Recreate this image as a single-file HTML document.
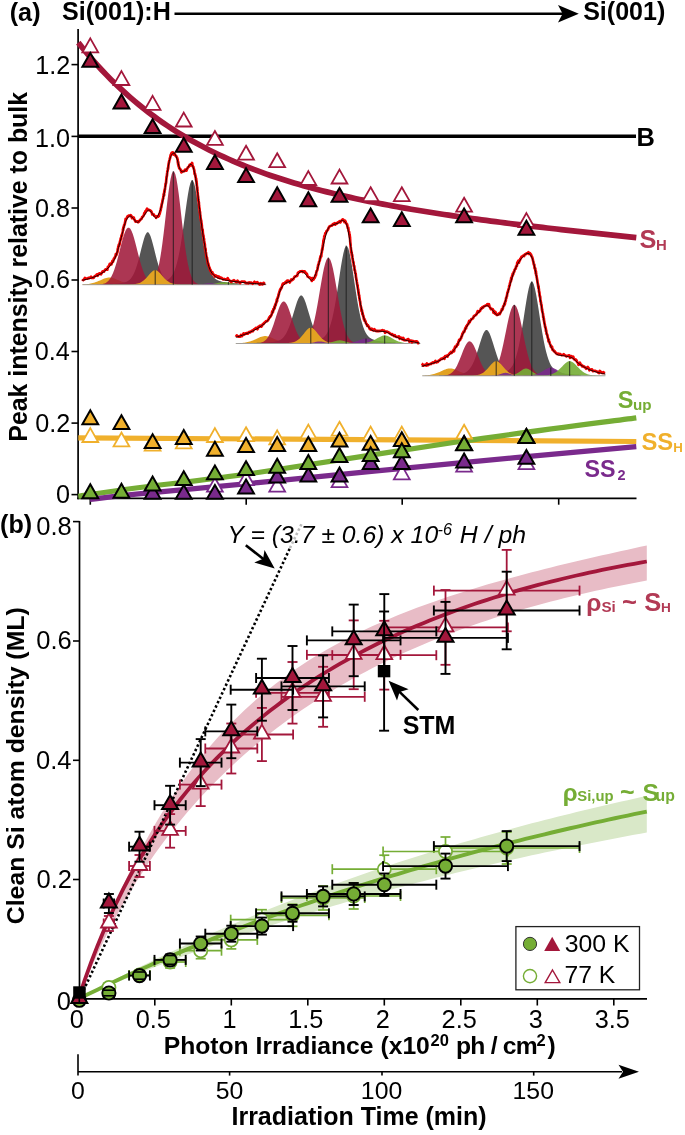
<!DOCTYPE html>
<html><head><meta charset="utf-8"><style>
html,body{margin:0;padding:0;background:#fff;width:685px;height:1135px;overflow:hidden}
svg{display:block;will-change:transform}
.b{font-family:"Liberation Sans",sans-serif;font-weight:bold}
.r{font-family:"Liberation Sans",sans-serif}
.i{font-family:"Liberation Sans",sans-serif;font-style:italic}
</style></head><body>
<svg width="685" height="1135" viewBox="0 0 685 1135">
<rect width="685" height="1135" fill="#fff"/>
<text x="9.74" y="21.3" class="b" font-size="25.2">(a)</text>
<text x="62.05" y="20.3" class="b" font-size="25.1">Si(001):H</text>
<line x1="174.5" y1="13.8" x2="566" y2="13.8" stroke="#000" stroke-width="2.4"/>
<path d="M578.8,13.8 L558,5.1 L562.6,13.8 L558,22.5 Z" fill="#000"/>
<text x="583.15" y="20.3" class="b" font-size="25.06">Si(001)</text>
<line x1="78.1" y1="29" x2="78.1" y2="499.2" stroke="#000" stroke-width="1.7"/>
<line x1="77.3" y1="498.4" x2="636.5" y2="498.4" stroke="#000" stroke-width="1.6"/>
<line x1="71.5" y1="64.6" x2="78.1" y2="64.6" stroke="#000" stroke-width="1.6"/>
<text x="35.33" y="74.3" class="r" font-size="25.2">1.2</text>
<line x1="71.5" y1="136.4" x2="78.1" y2="136.4" stroke="#000" stroke-width="1.6"/>
<text x="34.95" y="146.75" class="r" font-size="25.2">1.0</text>
<line x1="71.5" y1="208" x2="78.1" y2="208" stroke="#000" stroke-width="1.6"/>
<text x="35.08" y="216.55" class="r" font-size="25.2">0.8</text>
<line x1="71.5" y1="280" x2="78.1" y2="280" stroke="#000" stroke-width="1.6"/>
<text x="35.08" y="287.6" class="r" font-size="25.2">0.6</text>
<line x1="71.5" y1="351.5" x2="78.1" y2="351.5" stroke="#000" stroke-width="1.6"/>
<text x="34.83" y="359.8" class="r" font-size="25.2">0.4</text>
<line x1="71.5" y1="423.1" x2="78.1" y2="423.1" stroke="#000" stroke-width="1.6"/>
<text x="35.33" y="432.4" class="r" font-size="25.2">0.2</text>
<line x1="71.5" y1="494.6" x2="78.1" y2="494.6" stroke="#000" stroke-width="1.6"/>
<text x="56" y="503.4" class="r" font-size="25.2">0</text>
<line x1="90.3" y1="498.4" x2="90.3" y2="504.7" stroke="#000" stroke-width="1.6"/>
<line x1="246.2" y1="498.4" x2="246.2" y2="504.7" stroke="#000" stroke-width="1.6"/>
<line x1="402.2" y1="498.4" x2="402.2" y2="504.7" stroke="#000" stroke-width="1.6"/>
<line x1="558.7" y1="498.4" x2="558.7" y2="504.7" stroke="#000" stroke-width="1.6"/>
<text transform="translate(27.3,441.7) rotate(-90)" class="b" font-size="24.89">Peak intensity relative to bulk</text>
<line x1="78.3" y1="136.3" x2="636" y2="136.3" stroke="#000" stroke-width="3.4"/>
<text x="636.55" y="146.1" class="b" font-size="25.4">B</text>
<polygon points="82.4,284.7 82.4,284.41 83.44,284.36 84.48,284.3 85.51,284.23 86.55,284.14 87.59,284.03 88.63,283.9 89.67,283.74 90.7,283.55 91.74,283.33 92.78,283.08 93.82,282.79 94.86,282.46 95.89,282.1 96.93,281.71 97.97,281.28 99.01,280.84 100.05,280.38 101.08,279.91 102.12,279.45 103.16,279 104.2,278.59 105.24,278.23 106.27,277.92 107.31,277.69 108.35,277.55 109.39,277.5 110.43,277.55 111.46,277.69 112.5,277.91 113.54,278.22 114.58,278.58 115.62,278.99 116.65,279.44 117.69,279.9 118.73,280.36 119.77,280.83 120.81,281.27 121.84,281.7 122.88,282.09 123.92,282.45 124.96,282.78 125.99,283.07 127.03,283.33 128.07,283.55 129.11,283.74 130.15,283.89 131.18,284.03 132.22,284.14 133.26,284.23 134.3,284.3 135.34,284.36 136.37,284.41 137.41,284.44 138.45,284.47 139.49,284.5 140.53,284.52 141.56,284.53 142.6,284.55 143.64,284.56 144.68,284.57 145.72,284.58 146.75,284.58 147.79,284.59 148.83,284.6 149.87,284.6 150.91,284.61 151.94,284.61 152.98,284.61 154.02,284.62 155.06,284.62 156.1,284.62 157.13,284.63 158.17,284.63 159.21,284.63 160.25,284.64 161.29,284.64 162.32,284.64 163.36,284.64 164.4,284.64 164.4,284.7" fill="#e2a222" fill-opacity="1.0"/>
<polygon points="103.7,284.7 103.7,284.09 104.81,284.06 105.93,284.03 107.04,284 108.16,283.96 109.27,283.92 110.38,283.87 111.5,283.82 112.61,283.77 113.73,283.71 114.84,283.64 115.95,283.57 117.07,283.49 118.18,283.4 119.29,283.29 120.41,283.17 121.52,283.02 122.64,282.84 123.75,282.61 124.86,282.32 125.98,281.94 127.09,281.45 128.21,280.81 129.32,279.98 130.43,278.9 131.55,277.54 132.66,275.83 133.78,273.72 134.89,271.19 136,268.21 137.12,264.77 138.23,260.93 139.35,256.74 140.46,252.32 141.57,247.83 142.69,243.46 143.8,239.46 144.92,236.1 146.03,233.66 147.14,232.36 148.26,232.36 149.37,233.66 150.48,236.1 151.6,239.46 152.71,243.46 153.83,247.83 154.94,252.32 156.05,256.74 157.17,260.93 158.28,264.77 159.4,268.21 160.51,271.19 161.62,273.72 162.74,275.83 163.85,277.54 164.97,278.9 166.08,279.98 167.19,280.81 168.31,281.45 169.42,281.94 170.54,282.32 171.65,282.61 172.76,282.84 173.88,283.02 174.99,283.17 176.11,283.29 177.22,283.4 178.33,283.49 179.45,283.57 180.56,283.64 181.67,283.71 182.79,283.77 183.9,283.82 185.02,283.87 186.13,283.92 187.24,283.96 188.36,284 189.47,284.03 190.59,284.06 191.7,284.09 191.7,284.7" fill="#555555" fill-opacity="1.0"/>
<polygon points="144.2,284.7 144.2,283.49 145.42,283.43 146.63,283.37 147.85,283.3 149.06,283.22 150.28,283.14 151.49,283.05 152.71,282.95 153.92,282.84 155.14,282.72 156.35,282.6 157.57,282.45 158.78,282.29 160,282.11 161.21,281.9 162.43,281.65 163.64,281.35 164.86,280.99 166.07,280.54 167.29,279.95 168.5,279.2 169.72,278.22 170.93,276.95 172.15,275.29 173.36,273.15 174.58,270.43 175.79,267.02 177.01,262.83 178.23,257.78 179.44,251.84 180.66,245 181.87,237.34 183.09,228.99 184.3,220.19 185.52,211.24 186.73,202.53 187.95,194.56 189.16,187.87 190.38,183 191.59,180.43 192.81,180.43 194.02,183 195.24,187.87 196.45,194.56 197.67,202.53 198.88,211.24 200.1,220.19 201.31,228.99 202.53,237.34 203.74,245 204.96,251.84 206.17,257.78 207.39,262.83 208.61,267.02 209.82,270.43 211.04,273.15 212.25,275.29 213.47,276.95 214.68,278.22 215.9,279.2 217.11,279.95 218.33,280.54 219.54,280.99 220.76,281.35 221.97,281.65 223.19,281.9 224.4,282.11 225.62,282.29 226.83,282.45 228.05,282.6 229.26,282.72 230.48,282.84 231.69,282.95 232.91,283.05 234.12,283.14 235.34,283.22 236.55,283.3 237.77,283.37 238.98,283.43 240.2,283.49 240.2,284.7" fill="#555555" fill-opacity="1.0"/>
<polygon points="82.4,284.7 82.4,284.7 83.63,284.7 84.86,284.7 86.09,284.7 87.32,284.7 88.55,284.7 89.77,284.7 91,284.7 92.23,284.69 93.46,284.68 94.69,284.67 95.92,284.65 97.15,284.62 98.38,284.56 99.61,284.48 100.84,284.35 102.07,284.16 103.29,283.87 104.52,283.46 105.75,282.88 106.98,282.08 108.21,281.02 109.44,279.61 110.67,277.82 111.9,275.58 113.13,272.85 114.36,269.61 115.59,265.87 116.82,261.67 118.04,257.09 119.27,252.26 120.5,247.35 121.73,242.55 122.96,238.08 124.19,234.16 125.42,231.01 126.65,228.79 127.88,227.65 129.11,227.64 130.34,228.77 131.56,230.97 132.79,234.11 134.02,238.02 135.25,242.48 136.48,247.28 137.71,252.19 138.94,257.03 140.17,261.61 141.4,265.82 142.63,269.56 143.86,272.81 145.08,275.55 146.31,277.79 147.54,279.59 148.77,281 150,282.07 151.23,282.87 152.46,283.45 153.69,283.87 154.92,284.15 156.15,284.35 157.38,284.48 158.61,284.56 159.83,284.62 161.06,284.65 162.29,284.67 163.52,284.68 164.75,284.69 165.98,284.7 167.21,284.7 168.44,284.7 169.67,284.7 170.9,284.7 172.13,284.7 173.35,284.7 174.58,284.7 175.81,284.7 177.04,284.7 178.27,284.7 179.5,284.7 179.5,284.7" fill="#a0183a" fill-opacity="0.87"/>
<polygon points="127.5,284.7 127.5,284.7 128.66,284.7 129.83,284.7 130.99,284.7 132.16,284.7 133.32,284.7 134.49,284.7 135.65,284.7 136.82,284.7 137.98,284.7 139.15,284.69 140.31,284.69 141.47,284.67 142.64,284.65 143.8,284.62 144.97,284.56 146.13,284.45 147.3,284.29 148.46,284.03 149.63,283.63 150.79,283.04 151.96,282.16 153.12,280.92 154.28,279.18 155.45,276.83 156.61,273.71 157.78,269.71 158.94,264.69 160.11,258.57 161.27,251.34 162.44,243.04 163.6,233.83 164.77,223.93 165.93,213.71 167.09,203.59 168.26,194.06 169.42,185.64 170.59,178.81 171.75,174 172.92,171.51 174.08,171.51 175.25,174 176.41,178.81 177.58,185.64 178.74,194.06 179.91,203.59 181.07,213.71 182.23,223.93 183.4,233.83 184.56,243.04 185.73,251.34 186.89,258.57 188.06,264.69 189.22,269.71 190.39,273.71 191.55,276.83 192.72,279.18 193.88,280.92 195.04,282.16 196.21,283.04 197.37,283.63 198.54,284.03 199.7,284.29 200.87,284.45 202.03,284.56 203.2,284.62 204.36,284.65 205.53,284.67 206.69,284.69 207.85,284.69 209.02,284.7 210.18,284.7 211.35,284.7 212.51,284.7 213.68,284.7 214.84,284.7 216.01,284.7 217.17,284.7 218.34,284.7 219.5,284.7 219.5,284.7" fill="#a0183a" fill-opacity="0.87"/>
<polygon points="112.7,284.7 112.7,284.59 113.78,284.58 114.85,284.58 115.93,284.57 117,284.56 118.08,284.56 119.16,284.55 120.23,284.54 121.31,284.53 122.38,284.52 123.46,284.51 124.54,284.49 125.61,284.48 126.69,284.46 127.76,284.44 128.84,284.41 129.92,284.38 130.99,284.34 132.07,284.29 133.14,284.22 134.22,284.12 135.29,283.99 136.37,283.82 137.45,283.6 138.52,283.3 139.6,282.91 140.67,282.43 141.75,281.83 142.83,281.1 143.9,280.24 144.98,279.26 146.05,278.16 147.13,276.96 148.21,275.72 149.28,274.46 150.36,273.25 151.43,272.15 152.51,271.24 153.59,270.59 154.66,270.24 155.74,270.24 156.81,270.59 157.89,271.24 158.97,272.15 160.04,273.25 161.12,274.46 162.19,275.72 163.27,276.96 164.35,278.16 165.42,279.26 166.5,280.24 167.57,281.1 168.65,281.83 169.73,282.43 170.8,282.91 171.88,283.3 172.95,283.6 174.03,283.82 175.11,283.99 176.18,284.12 177.26,284.22 178.33,284.29 179.41,284.34 180.48,284.38 181.56,284.41 182.64,284.44 183.71,284.46 184.79,284.48 185.86,284.49 186.94,284.51 188.02,284.52 189.09,284.53 190.17,284.54 191.24,284.55 192.32,284.56 193.4,284.56 194.47,284.57 195.55,284.58 196.62,284.58 197.7,284.59 197.7,284.7" fill="#e2a222" fill-opacity="1.0"/>
<polygon points="179,284.7 179,284.68 180.11,284.68 181.21,284.68 182.32,284.68 183.42,284.68 184.53,284.68 185.63,284.67 186.74,284.67 187.84,284.67 188.95,284.67 190.05,284.67 191.16,284.66 192.26,284.66 193.37,284.66 194.47,284.66 195.58,284.65 196.68,284.65 197.79,284.64 198.89,284.63 200,284.62 201.1,284.61 202.21,284.59 203.31,284.57 204.42,284.54 205.52,284.5 206.63,284.44 207.73,284.38 208.84,284.29 209.94,284.19 211.05,284.06 212.15,283.92 213.26,283.75 214.36,283.56 215.47,283.36 216.57,283.16 217.68,282.94 218.78,282.74 219.89,282.56 220.99,282.4 222.1,282.28 223.2,282.21 224.31,282.2 225.41,282.25 226.52,282.34 227.62,282.48 228.73,282.66 229.83,282.85 230.94,283.06 232.04,283.27 233.15,283.48 234.25,283.67 235.36,283.84 236.46,284 237.57,284.13 238.67,284.25 239.78,284.34 240.88,284.41 241.99,284.47 243.09,284.52 244.2,284.56 245.3,284.58 246.41,284.6 247.51,284.62 248.62,284.63 249.72,284.64 250.83,284.65 251.93,284.65 253.04,284.65 254.14,284.66 255.25,284.66 256.35,284.66 257.46,284.67 258.56,284.67 259.67,284.67 260.77,284.67 261.88,284.67 262.98,284.67 264.09,284.68 265.19,284.68 266.3,284.68 266.3,284.7" fill="#75ad35" fill-opacity="0.9"/>
<polygon points="175,284.7 175,284.69 175.89,284.69 176.77,284.69 177.66,284.69 178.54,284.69 179.43,284.69 180.32,284.68 181.2,284.68 182.09,284.68 182.97,284.68 183.86,284.68 184.75,284.68 185.63,284.68 186.52,284.68 187.41,284.67 188.29,284.67 189.18,284.67 190.06,284.66 190.95,284.66 191.84,284.65 192.72,284.64 193.61,284.63 194.49,284.61 195.38,284.59 196.27,284.55 197.15,284.52 198.04,284.46 198.92,284.4 199.81,284.33 200.7,284.24 201.58,284.14 202.47,284.02 203.35,283.9 204.24,283.77 205.13,283.64 206.01,283.52 206.9,283.4 207.78,283.31 208.67,283.24 209.56,283.2 210.44,283.2 211.33,283.24 212.22,283.31 213.1,283.4 213.99,283.52 214.87,283.64 215.76,283.77 216.65,283.9 217.53,284.02 218.42,284.14 219.3,284.24 220.19,284.33 221.08,284.4 221.96,284.46 222.85,284.52 223.73,284.55 224.62,284.59 225.51,284.61 226.39,284.63 227.28,284.64 228.16,284.65 229.05,284.66 229.94,284.66 230.82,284.67 231.71,284.67 232.59,284.67 233.48,284.68 234.37,284.68 235.25,284.68 236.14,284.68 237.03,284.68 237.91,284.68 238.8,284.68 239.68,284.68 240.57,284.69 241.46,284.69 242.34,284.69 243.23,284.69 244.11,284.69 245,284.69 245,284.7" fill="#7a2a8c" fill-opacity="0.9"/>
<line x1="82.4" y1="284.7" x2="266.3" y2="284.7" stroke="#999" stroke-width="0.9"/>
<line x1="155.2" y1="284.7" x2="155.2" y2="270.2" stroke="#1a1a1a" stroke-width="0.85"/>
<line x1="173.3" y1="284.7" x2="173.3" y2="171.3" stroke="#1a1a1a" stroke-width="0.85"/>
<line x1="192.2" y1="284.7" x2="192.2" y2="180.1" stroke="#1a1a1a" stroke-width="0.85"/>
<line x1="228.4" y1="284.7" x2="228.4" y2="282" stroke="#1a1a1a" stroke-width="0.85"/>
<polyline points="82.3,281.05 83.17,279.92 84.05,279.49 84.92,277.92 85.8,278.83 86.67,278.56 87.55,278.53 88.42,277.92 89.29,278.09 90.16,277.54 91.03,276.69 91.89,277.96 92.75,277.67 93.6,277.95 94.44,276.47 95.28,275.83 96.12,275.38 96.94,274.32 97.76,275.71 98.56,273.85 99.36,273.37 100.15,273.62 100.92,274.34 101.68,272.99 102.44,271.6 103.17,271.3 103.9,271.7 104.61,270.59 105.31,269.59 105.99,269.38 106.65,269.45 107.3,269.69 107.94,266.8 108.55,266.57 109.15,265.78 109.74,263.96 110.31,264.31 110.87,263.53 111.41,264.31 111.94,262.7 112.45,260.91 112.94,261.74 113.42,260.28 113.88,258.53 114.31,258.54 114.73,257.75 115.11,256.74 115.48,256.56 115.82,254.14 116.14,254.69 116.44,254.75 116.73,253.78 117.01,253.11 117.27,252.25 117.53,251.64 117.77,248.95 118.02,249.45 118.26,246.68 118.5,246.68 118.74,244.87 118.99,246.06 119.24,245.38 119.49,243.42 119.73,243.92 119.98,241.32 120.22,241.02 120.46,240.15 120.7,238.43 120.94,238.61 121.17,238.8 121.39,235.87 121.61,236.37 121.83,234.8 122.03,235.31 122.23,233.59 122.42,232.91 122.61,232.07 122.8,230.99 122.99,229.02 123.19,230.15 123.4,227.38 123.62,227.66 123.85,227.07 124.09,225.17 124.36,224.96 124.64,224.75 124.95,222.96 125.29,221.38 125.65,218.94 126.05,219.27 126.48,218.52 126.94,217.62 127.45,216.46 127.99,216.68 128.58,215.48 129.21,215.49 129.9,215.98 130.62,215.11 131.37,215.93 132.13,218.24 132.87,218.07 133.59,217.36 134.27,219.06 134.91,220.35 135.53,221.57 136.15,221.43 136.78,221.38 137.43,221.42 138.11,222.28 138.8,221.7 139.51,220.57 140.21,220.08 140.9,219.07 141.57,218.92 142.2,216.92 142.8,216.72 143.37,215.94 143.92,214.66 144.44,212.77 144.96,213.39 145.48,211.15 146,211.22 146.53,209.82 147.08,208.72 147.65,209.87 148.26,209.89 148.89,209.84 149.56,210.48 150.25,210.4 150.95,211.02 151.66,212.2 152.36,214.49 153.05,214.57 153.72,214.48 154.37,216.01 154.99,215.96 155.6,216.52 156.17,217.81 156.71,216.99 157.21,216.12 157.69,216.38 158.13,216.63 158.55,216.04 158.95,216.05 159.32,213.8 159.66,213.82 159.99,212.53 160.3,210.99 160.6,210.5 160.88,209.04 161.14,206.88 161.4,207.03 161.65,204.25 161.89,204.01 162.12,202.88 162.34,202.11 162.56,200.28 162.77,199.77 162.97,198.73 163.16,198.59 163.35,196.43 163.54,196.15 163.71,195.05 163.88,193.49 164.05,195.45 164.21,192.72 164.36,190.94 164.51,192.19 164.65,189.69 164.79,189.95 164.92,189.54 165.05,187.75 165.17,187.16 165.3,186.35 165.41,185.91 165.53,184.13 165.64,183.66 165.74,183.69 165.85,183.77 165.96,182.74 166.06,182.75 166.17,181.27 166.27,179.65 166.38,179.14 166.48,177.01 166.59,176.96 166.7,176.1 166.82,176.17 166.93,175.58 167.06,173.87 167.18,172.96 167.31,171.38 167.45,171.45 167.59,170.77 167.74,169.93 167.9,168.08 168.06,169 168.24,167.39 168.42,165.41 168.61,164.01 168.81,163.02 169.02,162.18 169.24,160.86 169.48,159.99 169.73,158.97 170,158.21 170.31,156.94 170.64,155.06 171.02,154.54 171.44,153.29 171.91,152.66 172.44,154.14 173.03,152.48 173.67,154.49 174.35,153.37 175.02,154.49 175.65,155.9 176.21,156.03 176.66,157.18 177.03,157.62 177.31,158.34 177.53,159.44 177.7,159.99 177.84,162.46 177.97,162.07 178.09,164.27 178.22,162.04 178.37,164.79 178.58,166.02 178.83,166.27 179.16,168.07 179.58,168.58 180.1,168.75 180.73,170.03 181.43,172.39 182.18,171.13 182.95,171.47 183.7,170.97 184.43,171.1 185.13,169.59 185.82,169.66 186.49,170.68 187.14,168.79 187.78,167.53 188.4,166.92 189.01,166.6 189.6,164.97 190.16,165.47 190.69,164.48 191.2,163.86 191.68,165.27 192.13,162.99 192.55,165.02 192.95,166.55 193.32,166.78 193.67,168.44 193.99,169.25 194.29,170.38 194.57,173.83 194.83,173.43 195.07,173.97 195.29,175.93 195.49,175.81 195.68,177.53 195.85,178.07 196.01,179.86 196.16,178.6 196.29,180.98 196.41,181.37 196.53,181.3 196.63,183.67 196.73,183.12 196.82,185.66 196.91,185.68 196.99,186.6 197.07,186.97 197.15,188.34 197.23,187.2 197.31,189.36 197.39,189.68 197.47,191.14 197.56,191.74 197.64,193.04 197.73,192.87 197.82,195.59 197.91,196.78 198,195.88 198.09,196.89 198.19,197.97 198.28,199.54 198.38,200.87 198.48,199.59 198.58,200.89 198.68,201.48 198.78,202.35 198.89,202.89 198.99,205.2 199.1,205.04 199.21,207.82 199.32,208.32 199.43,207.89 199.54,208.81 199.66,210.02 199.78,212.35 199.89,211.7 200.01,212.17 200.13,214.11 200.25,215.33 200.38,215.53 200.5,218.05 200.63,218 200.75,219.07 200.88,219.07 201.01,220.56 201.14,221.39 201.28,220.82 201.41,223.52 201.54,222.97 201.68,225.11 201.82,225 201.95,228.34 202.09,228.05 202.23,229.32 202.37,230.26 202.51,229.58 202.65,229.8 202.79,232.06 202.93,233.8 203.07,234.12 203.21,235.5 203.35,236.49 203.48,235.67 203.62,237.8 203.76,239.85 203.9,238.96 204.03,238.82 204.17,240.96 204.3,241.68 204.44,243.18 204.57,243.14 204.7,244.71 204.83,243.97 204.96,247 205.08,248.4 205.21,249.08 205.33,247.99 205.46,250.16 205.59,248.73 205.72,251.9 205.85,252.54 205.98,252.77 206.12,254.59 206.27,255.33 206.42,256.78 206.58,257.09 206.75,258.05 206.93,257.41 207.12,258.84 207.32,260.2 207.53,261.63 207.75,262.3 207.98,264.23 208.23,263.46 208.5,264.78 208.78,266.01 209.07,266.55 209.39,267.93 209.73,268.05 210.09,270.3 210.48,269.92 210.9,271.74 211.35,271.72 211.83,273.55 212.36,272.25 212.92,274.27 213.53,274.25 214.18,275.31 214.88,276.53 215.62,275.39 216.39,275.72 217.2,276.37 218.03,277.63 218.88,276.47 219.74,278.18 220.62,277.5 221.5,277.87 222.38,278.66 223.26,279.41 224.15,278.91 225.03,279.2 225.91,279.69 226.8,279.7 227.68,278.17 228.57,279.88 229.45,280.38 230.34,281.21 231.23,282 232.12,281.15 233,280.86 233.89,280.24 234.78,281.09 235.67,281.68 236.57,282.13 237.46,280.74 238.35,281.63 239.24,282.14 240.14,282.98 241.03,281.96 241.93,281.5 242.82,281.5 243.72,281.82 244.61,281.71 245.51,282.84 246.41,283.1 247.3,282.95 248.2,283.37 249.1,282.3 250,282.97 250.9,282.51 251.79,282.89 252.69,283.79 253.59,282.99 254.49,281.77 255.39,282.97 256.29,282.71 257.19,282.21 258.08,282.78 258.98,284.06 259.88,284.61 260.78,283.14 261.68,284.23 262.58,284.4 263.47,282.8 264.37,283.62 265.27,283.65" fill="none" stroke="#f00000" stroke-width="2.7" stroke-linejoin="round"/>
<path d="M82.3,280.3 C83.87,279.9 88.77,278.88 91.7,277.9 C94.63,276.92 97.37,275.85 99.9,274.4 C102.43,272.95 104.97,270.95 106.9,269.2 C108.83,267.45 110.15,265.75 111.5,263.9 C112.85,262.05 113.83,260.82 115,258.1 C116.17,255.38 117.33,251.5 118.5,247.6 C119.67,243.7 120.83,238.98 122,234.7 C123.17,230.42 124.23,225.02 125.5,221.9 C126.77,218.78 128.23,216.5 129.6,216 C130.97,215.5 132.43,217.83 133.7,218.9 C134.97,219.97 135.83,222.48 137.2,222.4 C138.57,222.32 140.05,220.43 141.9,218.4 C143.75,216.37 146.55,210.98 148.3,210.2 C150.05,209.42 151.05,212.43 152.4,213.7 C153.75,214.97 154.88,219.03 156.4,217.8 C157.92,216.57 160.02,211.4 161.5,206.3 C162.98,201.2 164.02,194.65 165.3,187.2 C166.58,179.75 167.92,167.25 169.2,161.6 C170.48,155.95 171.83,154.15 173,153.3 C174.17,152.45 175.03,153.83 176.2,156.5 C177.37,159.17 178.83,166.75 180,169.3 C181.17,171.85 182.02,171.92 183.2,171.8 C184.38,171.68 185.82,169.87 187.1,168.6 C188.38,167.33 189.73,163.87 190.9,164.2 C192.07,164.53 193.03,166.35 194.1,170.6 C195.17,174.85 196.13,181.18 197.3,189.7 C198.47,198.22 199.82,212.12 201.1,221.7 C202.38,231.28 203.72,239.75 205,247.2 C206.28,254.65 207.32,261.7 208.8,266.4 C210.28,271.1 211.77,273.27 213.9,275.4 C216.03,277.53 218.42,278.22 221.6,279.2 C224.78,280.18 228.27,280.63 233,281.3 C237.73,281.97 244.55,282.72 250,283.2 C255.45,283.68 263.08,284.03 265.7,284.2" fill="none" stroke="#000" stroke-width="0.85" stroke-linejoin="round"/>
<polygon points="235.8,343.5 235.8,343.28 236.87,343.25 237.94,343.21 239.01,343.17 240.08,343.11 241.15,343.04 242.22,342.95 243.29,342.84 244.36,342.7 245.43,342.54 246.5,342.34 247.57,342.11 248.64,341.84 249.71,341.54 250.77,341.19 251.84,340.81 252.91,340.39 253.98,339.94 255.05,339.46 256.12,338.97 257.19,338.48 258.26,337.99 259.33,337.53 260.4,337.11 261.47,336.74 262.54,336.44 263.61,336.23 264.68,336.12 265.75,336.11 266.82,336.21 267.89,336.4 268.96,336.68 270.03,337.04 271.1,337.46 272.17,337.92 273.24,338.4 274.31,338.89 275.38,339.39 276.45,339.86 277.52,340.32 278.58,340.74 279.65,341.13 280.72,341.49 281.79,341.8 282.86,342.07 283.93,342.31 285,342.51 286.07,342.68 287.14,342.82 288.21,342.93 289.28,343.02 290.35,343.1 291.42,343.16 292.49,343.21 293.56,343.24 294.63,343.27 295.7,343.3 296.77,343.32 297.84,343.33 298.91,343.35 299.98,343.36 301.05,343.37 302.12,343.38 303.19,343.38 304.26,343.39 305.33,343.4 306.39,343.4 307.46,343.41 308.53,343.41 309.6,343.41 310.67,343.42 311.74,343.42 312.81,343.42 313.88,343.43 314.95,343.43 316.02,343.43 317.09,343.44 318.16,343.44 319.23,343.44 320.3,343.44 320.3,343.5" fill="#e2a222" fill-opacity="1.0"/>
<polygon points="253.7,343.5 253.7,342.94 254.9,342.92 256.11,342.89 257.31,342.85 258.51,342.82 259.71,342.78 260.92,342.74 262.12,342.69 263.32,342.64 264.52,342.59 265.73,342.53 266.93,342.46 268.13,342.39 269.33,342.31 270.54,342.21 271.74,342.1 272.94,341.96 274.14,341.79 275.35,341.58 276.55,341.31 277.75,340.97 278.95,340.52 280.16,339.93 281.36,339.16 282.56,338.18 283.76,336.92 284.97,335.35 286.17,333.42 287.37,331.1 288.57,328.36 289.78,325.21 290.98,321.67 292.18,317.83 293.38,313.77 294.59,309.65 295.79,305.64 296.99,301.96 298.19,298.88 299.4,296.64 300.6,295.45 301.8,295.45 303,296.64 304.21,298.88 305.41,301.96 306.61,305.64 307.81,309.65 309.02,313.77 310.22,317.83 311.42,321.67 312.62,325.21 313.83,328.36 315.03,331.1 316.23,333.42 317.43,335.35 318.64,336.92 319.84,338.18 321.04,339.16 322.24,339.93 323.45,340.52 324.65,340.97 325.85,341.31 327.05,341.58 328.26,341.79 329.46,341.96 330.66,342.1 331.86,342.21 333.07,342.31 334.27,342.39 335.47,342.46 336.67,342.53 337.88,342.59 339.08,342.64 340.28,342.69 341.48,342.74 342.69,342.78 343.89,342.82 345.09,342.85 346.29,342.89 347.5,342.92 348.7,342.94 348.7,343.5" fill="#555555" fill-opacity="1.0"/>
<polygon points="297.5,343.5 297.5,342.37 298.74,342.32 299.98,342.26 301.22,342.19 302.46,342.12 303.7,342.04 304.94,341.96 306.18,341.87 307.42,341.77 308.66,341.66 309.91,341.54 311.15,341.4 312.39,341.25 313.63,341.08 314.87,340.89 316.11,340.66 317.35,340.38 318.59,340.04 319.83,339.61 321.07,339.07 322.31,338.37 323.55,337.46 324.79,336.27 326.03,334.72 327.27,332.72 328.51,330.18 329.75,327.01 330.99,323.1 332.23,318.39 333.47,312.84 334.72,306.46 335.96,299.31 337.2,291.52 338.44,283.31 339.68,274.95 340.92,266.83 342.16,259.39 343.4,253.15 344.64,248.6 345.88,246.21 347.12,246.21 348.36,248.6 349.6,253.15 350.84,259.39 352.08,266.83 353.32,274.95 354.56,283.31 355.8,291.52 357.04,299.31 358.28,306.46 359.53,312.84 360.77,318.39 362.01,323.1 363.25,327.01 364.49,330.18 365.73,332.72 366.97,334.72 368.21,336.27 369.45,337.46 370.69,338.37 371.93,339.07 373.17,339.61 374.41,340.04 375.65,340.38 376.89,340.66 378.13,340.89 379.37,341.08 380.61,341.25 381.85,341.4 383.09,341.54 384.34,341.66 385.58,341.77 386.82,341.87 388.06,341.96 389.3,342.04 390.54,342.12 391.78,342.19 393.02,342.26 394.26,342.32 395.5,342.37 395.5,343.5" fill="#555555" fill-opacity="1.0"/>
<polygon points="236.2,343.5 236.2,343.5 237.4,343.5 238.61,343.5 239.81,343.5 241.01,343.5 242.21,343.5 243.42,343.5 244.62,343.5 245.82,343.5 247.02,343.5 248.23,343.5 249.43,343.49 250.63,343.49 251.83,343.48 253.04,343.47 254.24,343.45 255.44,343.41 256.64,343.35 257.85,343.25 259.05,343.1 260.25,342.88 261.45,342.56 262.66,342.1 263.86,341.45 265.06,340.58 266.26,339.42 267.47,337.94 268.67,336.08 269.87,333.81 271.07,331.13 272.28,328.05 273.48,324.63 274.68,320.96 275.88,317.17 277.09,313.41 278.29,309.88 279.49,306.76 280.69,304.22 281.9,302.44 283.1,301.52 284.3,301.52 285.5,302.44 286.71,304.22 287.91,306.76 289.11,309.88 290.31,313.41 291.52,317.17 292.72,320.96 293.92,324.63 295.12,328.05 296.33,331.13 297.53,333.81 298.73,336.08 299.93,337.94 301.14,339.42 302.34,340.58 303.54,341.45 304.74,342.1 305.95,342.56 307.15,342.88 308.35,343.1 309.55,343.25 310.76,343.35 311.96,343.41 313.16,343.45 314.36,343.47 315.57,343.48 316.77,343.49 317.97,343.49 319.17,343.5 320.38,343.5 321.58,343.5 322.78,343.5 323.98,343.5 325.19,343.5 326.39,343.5 327.59,343.5 328.79,343.5 330,343.5 331.2,343.5 331.2,343.5" fill="#a0183a" fill-opacity="0.87"/>
<polygon points="277.4,343.5 277.4,343.5 278.69,343.5 279.98,343.5 281.27,343.5 282.56,343.5 283.86,343.5 285.15,343.5 286.44,343.5 287.73,343.5 289.02,343.5 290.31,343.49 291.6,343.49 292.89,343.48 294.18,343.46 295.48,343.44 296.77,343.39 298.06,343.31 299.35,343.19 300.64,342.99 301.93,342.69 303.22,342.24 304.51,341.58 305.81,340.64 307.1,339.33 308.39,337.55 309.68,335.19 310.97,332.17 312.26,328.37 313.55,323.75 314.84,318.28 316.13,312.01 317.43,305.04 318.72,297.56 320.01,289.83 321.3,282.18 322.59,274.98 323.88,268.61 325.17,263.45 326.46,259.82 327.75,257.94 329.05,257.94 330.34,259.82 331.63,263.45 332.92,268.61 334.21,274.98 335.5,282.18 336.79,289.83 338.08,297.56 339.37,305.04 340.67,312.01 341.96,318.28 343.25,323.75 344.54,328.37 345.83,332.17 347.12,335.19 348.41,337.55 349.7,339.33 350.99,340.64 352.29,341.58 353.58,342.24 354.87,342.69 356.16,342.99 357.45,343.19 358.74,343.31 360.03,343.39 361.32,343.44 362.62,343.46 363.91,343.48 365.2,343.49 366.49,343.49 367.78,343.5 369.07,343.5 370.36,343.5 371.65,343.5 372.94,343.5 374.24,343.5 375.53,343.5 376.82,343.5 378.11,343.5 379.4,343.5 379.4,343.5" fill="#a0183a" fill-opacity="0.87"/>
<polygon points="268.3,343.5 268.3,343.38 269.38,343.37 270.45,343.37 271.53,343.36 272.6,343.35 273.68,343.34 274.76,343.33 275.83,343.32 276.91,343.31 277.98,343.3 279.06,343.29 280.14,343.27 281.21,343.26 282.29,343.24 283.36,343.21 284.44,343.19 285.52,343.15 286.59,343.11 287.67,343.05 288.74,342.97 289.82,342.87 290.89,342.73 291.97,342.54 293.05,342.3 294.12,341.97 295.2,341.55 296.27,341.02 297.35,340.37 298.43,339.58 299.5,338.64 300.58,337.57 301.65,336.37 302.73,335.07 303.81,333.71 304.88,332.34 305.96,331.02 307.03,329.83 308.11,328.84 309.19,328.12 310.26,327.75 311.34,327.75 312.41,328.12 313.49,328.84 314.57,329.83 315.64,331.02 316.72,332.34 317.79,333.71 318.87,335.07 319.95,336.37 321.02,337.57 322.1,338.64 323.17,339.58 324.25,340.37 325.33,341.02 326.4,341.55 327.48,341.97 328.55,342.3 329.63,342.54 330.71,342.73 331.78,342.87 332.86,342.97 333.93,343.05 335.01,343.11 336.08,343.15 337.16,343.19 338.24,343.21 339.31,343.24 340.39,343.26 341.46,343.27 342.54,343.29 343.62,343.3 344.69,343.31 345.77,343.32 346.84,343.33 347.92,343.34 349,343.35 350.07,343.36 351.15,343.37 352.22,343.37 353.3,343.38 353.3,343.5" fill="#e2a222" fill-opacity="1.0"/>
<polygon points="304.7,343.5 304.7,343.48 305.59,343.47 306.47,343.47 307.36,343.47 308.24,343.47 309.13,343.47 310.02,343.47 310.9,343.46 311.79,343.46 312.67,343.46 313.56,343.46 314.45,343.45 315.33,343.45 316.22,343.45 317.11,343.44 317.99,343.44 318.88,343.43 319.76,343.42 320.65,343.41 321.54,343.39 322.42,343.37 323.31,343.34 324.19,343.31 325.08,343.26 325.97,343.19 326.85,343.11 327.74,343 328.62,342.87 329.51,342.71 330.4,342.52 331.28,342.3 332.17,342.06 333.05,341.79 333.94,341.52 334.83,341.24 335.71,340.97 336.6,340.73 337.48,340.53 338.37,340.39 339.26,340.31 340.14,340.31 341.03,340.39 341.92,340.53 342.8,340.73 343.69,340.97 344.57,341.24 345.46,341.52 346.35,341.79 347.23,342.06 348.12,342.3 349,342.52 349.89,342.71 350.78,342.87 351.66,343 352.55,343.11 353.43,343.19 354.32,343.26 355.21,343.31 356.09,343.34 356.98,343.37 357.86,343.39 358.75,343.41 359.64,343.42 360.52,343.43 361.41,343.44 362.29,343.44 363.18,343.45 364.07,343.45 364.95,343.45 365.84,343.46 366.73,343.46 367.61,343.46 368.5,343.46 369.38,343.47 370.27,343.47 371.16,343.47 372.04,343.47 372.93,343.47 373.81,343.47 374.7,343.48 374.7,343.5" fill="#75ad35" fill-opacity="0.9"/>
<polygon points="289.6,343.5 289.6,343.48 290.36,343.48 291.12,343.48 291.88,343.48 292.64,343.48 293.4,343.48 294.16,343.48 294.92,343.48 295.68,343.48 296.44,343.47 297.19,343.47 297.95,343.47 298.71,343.47 299.47,343.47 300.23,343.46 300.99,343.46 301.75,343.45 302.51,343.45 303.27,343.44 304.03,343.43 304.79,343.42 305.55,343.4 306.31,343.37 307.07,343.34 307.83,343.3 308.59,343.24 309.35,343.17 310.11,343.08 310.87,342.98 311.63,342.85 312.38,342.71 313.14,342.55 313.9,342.38 314.66,342.2 315.42,342.02 316.18,341.84 316.94,341.68 317.7,341.55 318.46,341.46 319.22,341.41 319.98,341.41 320.74,341.46 321.5,341.55 322.26,341.68 323.02,341.84 323.78,342.02 324.54,342.2 325.3,342.38 326.06,342.55 326.82,342.71 327.57,342.85 328.33,342.98 329.09,343.08 329.85,343.17 330.61,343.24 331.37,343.3 332.13,343.34 332.89,343.37 333.65,343.4 334.41,343.42 335.17,343.43 335.93,343.44 336.69,343.45 337.45,343.45 338.21,343.46 338.97,343.46 339.73,343.47 340.49,343.47 341.25,343.47 342.01,343.47 342.76,343.47 343.52,343.48 344.28,343.48 345.04,343.48 345.8,343.48 346.56,343.48 347.32,343.48 348.08,343.48 348.84,343.48 349.6,343.48 349.6,343.5" fill="#7a2a8c" fill-opacity="0.9"/>
<polygon points="321,343.5 321,343.46 322.14,343.46 323.28,343.46 324.42,343.46 325.56,343.45 326.7,343.45 327.84,343.45 328.97,343.45 330.11,343.44 331.25,343.44 332.39,343.43 333.53,343.43 334.67,343.42 335.81,343.42 336.95,343.41 338.09,343.4 339.23,343.39 340.37,343.38 341.51,343.36 342.65,343.34 343.78,343.3 344.92,343.26 346.06,343.2 347.2,343.13 348.34,343.03 349.48,342.9 350.62,342.73 351.76,342.53 352.9,342.28 354.04,341.99 355.18,341.66 356.32,341.29 357.46,340.89 358.59,340.46 359.73,340.04 360.87,339.63 362.01,339.26 363.15,338.95 364.29,338.73 365.43,338.61 366.57,338.61 367.71,338.73 368.85,338.95 369.99,339.26 371.13,339.63 372.27,340.04 373.41,340.46 374.54,340.89 375.68,341.29 376.82,341.66 377.96,341.99 379.1,342.28 380.24,342.53 381.38,342.73 382.52,342.9 383.66,343.03 384.8,343.13 385.94,343.2 387.08,343.26 388.22,343.3 389.35,343.34 390.49,343.36 391.63,343.38 392.77,343.39 393.91,343.4 395.05,343.41 396.19,343.42 397.33,343.42 398.47,343.43 399.61,343.43 400.75,343.44 401.89,343.44 403.03,343.45 404.16,343.45 405.3,343.45 406.44,343.45 407.58,343.46 408.72,343.46 409.86,343.46 411,343.46 411,343.5" fill="#7a2a8c" fill-opacity="0.9"/>
<polygon points="337.2,343.5 337.2,343.44 338.25,343.44 339.31,343.43 340.36,343.43 341.41,343.43 342.47,343.42 343.52,343.42 344.57,343.42 345.63,343.41 346.68,343.41 347.73,343.4 348.78,343.4 349.84,343.39 350.89,343.38 351.94,343.37 353,343.37 354.05,343.36 355.1,343.34 356.16,343.33 357.21,343.31 358.26,343.29 359.32,343.26 360.37,343.22 361.42,343.17 362.48,343.11 363.53,343.03 364.58,342.92 365.64,342.79 366.69,342.62 367.74,342.41 368.79,342.16 369.85,341.86 370.9,341.5 371.95,341.09 373.01,340.62 374.06,340.11 375.11,339.55 376.17,338.96 377.22,338.35 378.27,337.74 379.33,337.16 380.38,336.63 381.43,336.17 382.49,335.82 383.54,335.59 384.59,335.5 385.65,335.56 386.7,335.76 387.75,336.09 388.81,336.53 389.86,337.05 390.91,337.62 391.96,338.22 393.02,338.83 394.07,339.43 395.12,340 396.18,340.52 397.23,341 398.28,341.42 399.34,341.79 400.39,342.1 401.44,342.37 402.5,342.58 403.55,342.76 404.6,342.9 405.66,343.01 406.71,343.09 407.76,343.16 408.82,343.21 409.87,343.25 410.92,343.28 411.97,343.31 413.03,343.32 414.08,343.34 415.13,343.35 416.19,343.36 417.24,343.37 418.29,343.38 419.35,343.39 420.4,343.39 420.4,343.5" fill="#75ad35" fill-opacity="0.9"/>
<line x1="235.8" y1="343.5" x2="420.4" y2="343.5" stroke="#999" stroke-width="0.9"/>
<line x1="310.8" y1="343.5" x2="310.8" y2="327.6" stroke="#1a1a1a" stroke-width="0.85"/>
<line x1="328.3" y1="343.5" x2="328.3" y2="257.5" stroke="#1a1a1a" stroke-width="0.85"/>
<line x1="346.2" y1="343.5" x2="346.2" y2="245.6" stroke="#1a1a1a" stroke-width="0.85"/>
<line x1="366" y1="343.5" x2="366" y2="338.5" stroke="#1a1a1a" stroke-width="0.85"/>
<line x1="384.7" y1="343.5" x2="384.7" y2="335.5" stroke="#1a1a1a" stroke-width="0.85"/>
<polyline points="235.9,336.92 236.76,335.43 237.62,336.03 238.47,336.75 239.33,336.62 240.19,336.74 241.04,334.94 241.9,336.2 242.75,335.06 243.6,333.35 244.45,334.52 245.3,333.43 246.14,333.72 246.98,332.96 247.81,333.54 248.65,332.53 249.47,331.79 250.3,332.3 251.12,331.44 251.93,330.58 252.74,331.37 253.54,329.79 254.34,329.22 255.13,328.86 255.91,327.78 256.69,327.97 257.47,329.21 258.24,326.81 259.01,326.98 259.78,325.72 260.54,325.57 261.3,326.57 262.05,325.62 262.8,324.05 263.54,323.95 264.26,322.82 264.97,322.29 265.66,321.61 266.33,321.02 266.97,321.25 267.58,320.79 268.17,320.04 268.72,318.88 269.24,317.32 269.73,317.47 270.2,316.11 270.65,316.58 271.07,315.56 271.48,314.88 271.87,313.29 272.25,311.44 272.62,312.54 272.99,311.9 273.34,309.16 273.69,309.46 274.03,309.36 274.37,306.93 274.69,308.08 275.01,305.75 275.32,304.4 275.63,305.27 275.93,303.67 276.22,302.16 276.5,302.38 276.78,299.54 277.05,301.33 277.31,298.64 277.56,298.55 277.81,297.22 278.06,296.95 278.3,296.41 278.55,294.35 278.81,294.63 279.07,293.01 279.35,291.88 279.65,291.35 279.96,289.96 280.29,289.25 280.65,289.62 281.04,288 281.45,288.07 281.9,286.75 282.39,284.93 282.93,283.57 283.51,283.71 284.14,283.74 284.82,283 285.57,281.94 286.38,282.84 287.22,280.59 288.09,280.65 288.96,281.35 289.8,282.5 290.6,280.9 291.35,279.49 292.05,280.12 292.72,279.64 293.37,279.22 294,277.63 294.63,276.67 295.26,276.58 295.9,276.03 296.57,276.06 297.25,275.61 297.96,272.87 298.67,272.3 299.39,271.98 300.11,271.33 300.83,271.47 301.53,271.27 302.23,271.11 302.9,272.07 303.57,271.4 304.23,271.3 304.88,271.6 305.54,272.72 306.21,273.51 306.88,273.77 307.57,276.41 308.28,276.91 309,277.27 309.73,277.65 310.44,277.75 311.13,278.65 311.79,280.85 312.4,278.06 312.97,279.55 313.5,279.62 313.98,278.68 314.44,277.69 314.86,277.65 315.25,275.43 315.62,275.59 315.96,275.14 316.29,272.29 316.6,271.29 316.9,270.81 317.18,270.26 317.47,269.38 317.74,267.84 318.02,265.85 318.29,264.52 318.55,264.49 318.81,263.64 319.06,261.66 319.31,261.57 319.55,260.88 319.79,260.51 320.02,258.24 320.24,258.49 320.46,256.46 320.68,256.17 320.88,255.62 321.08,255.94 321.27,256.4 321.46,253.47 321.64,252.85 321.81,252.42 321.98,249.96 322.13,250.64 322.28,248.42 322.42,249.61 322.56,248.63 322.69,247.12 322.81,245.34 322.93,246.19 323.05,244.32 323.17,243.32 323.3,242.74 323.44,240.23 323.58,240.83 323.74,240.32 323.91,238.95 324.1,237.91 324.31,236.24 324.54,236.47 324.79,235.27 325.07,234.26 325.38,233 325.72,233.15 326.1,232.59 326.5,231.17 326.95,230.73 327.44,230.25 327.97,229.68 328.55,227.99 329.16,226.99 329.82,226.2 330.51,225.9 331.24,225.74 332,225.54 332.79,224.19 333.61,224.28 334.46,223.23 335.31,224.58 336.18,223.19 337.04,223.43 337.9,222.31 338.74,222.12 339.56,221.27 340.36,222.35 341.13,220.87 341.88,220.09 342.59,219.34 343.28,219.65 343.93,220.81 344.55,222.14 345.14,220.7 345.69,221.93 346.2,223.41 346.68,224.11 347.11,224.41 347.51,226.59 347.86,228.08 348.18,227.42 348.47,229.62 348.73,231.08 348.96,232.01 349.16,231.94 349.34,234.74 349.49,234.39 349.63,234.31 349.75,236.43 349.85,235.81 349.94,238.07 350.02,237.4 350.09,239.68 350.16,239.55 350.22,241.59 350.28,242.15 350.34,242.78 350.4,243.35 350.47,244.91 350.54,243.73 350.63,246.14 350.72,246.98 350.82,247.94 350.93,248.99 351.04,251.87 351.16,250.23 351.29,251.59 351.42,252.01 351.55,253.88 351.7,252.25 351.84,255.74 351.99,254.96 352.15,254.75 352.31,256.47 352.47,258 352.64,259.15 352.8,259.89 352.97,261.39 353.15,261.69 353.32,262.58 353.49,262.02 353.67,264.77 353.84,266.04 354.02,265.94 354.2,265.83 354.37,267.11 354.55,270.12 354.72,269.43 354.89,270.29 355.06,271.08 355.23,273.03 355.4,273.05 355.56,273.75 355.72,274.2 355.88,276.07 356.04,277.75 356.2,277.84 356.35,279.45 356.51,279.85 356.66,280.72 356.81,281.63 356.96,282.42 357.11,284.01 357.26,284.52 357.4,284.66 357.55,286.04 357.69,286.78 357.83,288.06 357.98,288.73 358.12,289.77 358.26,289.33 358.39,291.51 358.53,293.04 358.67,292.06 358.81,295 358.94,294.96 359.08,295.49 359.21,295.24 359.34,298.14 359.48,297.58 359.61,298.77 359.74,300.38 359.88,300.15 360.02,301.05 360.16,301.81 360.31,303.4 360.46,304.77 360.61,305.51 360.77,306.38 360.94,306.73 361.12,307.94 361.3,308.23 361.49,310.98 361.69,310.6 361.9,309.97 362.12,311.46 362.36,314.21 362.6,313.01 362.86,314.55 363.13,316.02 363.41,315.85 363.72,318.25 364.03,319.57 364.36,318.71 364.71,320.97 365.08,320.45 365.46,321.26 365.87,323.01 366.31,323.86 366.77,324.11 367.26,325.92 367.78,325.06 368.34,326.21 368.93,326.73 369.55,328.63 370.22,329.21 370.93,329.6 371.69,328.63 372.49,329.97 373.32,330.45 374.2,329.2 375.09,329.9 376.01,331.03 376.94,331.14 377.87,330.86 378.81,331.08 379.73,330.94 380.66,330.84 381.57,330.68 382.47,330.19 383.36,330.71 384.24,330.72 385.1,332.8 385.95,331.59 386.78,331.69 387.6,331.88 388.4,332.35 389.2,332.66 390,333.68 390.79,333.74 391.58,334.79 392.38,334.19 393.18,335.36 393.98,336.15 394.79,335.13 395.61,336.44 396.44,336.87 397.26,336.82 398.1,337.05 398.94,336.41 399.78,338.83 400.63,337.66 401.48,337.73 402.34,339.33 403.2,337.85 404.06,340.05 404.93,339.92 405.79,340.26 406.67,339.94 407.54,339.41 408.42,339.15 409.3,341.68 410.18,340.52 411.06,340.67 411.95,342.31 412.83,340.93 413.72,341.37 414.61,341.53 415.5,341.76 416.38,341.29 417.27,341.77 418.16,343.22 419.05,343" fill="none" stroke="#f00000" stroke-width="2.7" stroke-linejoin="round"/>
<path d="M235.9,337.3 C237.37,336.82 241.87,335.47 244.7,334.4 C247.53,333.33 250.18,332.27 252.9,330.9 C255.62,329.53 258.48,327.95 261,326.2 C263.52,324.45 266.05,322.73 268,320.4 C269.95,318.07 271.13,315.7 272.7,312.2 C274.27,308.7 276.03,303.28 277.4,299.4 C278.77,295.52 279.53,291.63 280.9,288.9 C282.27,286.17 284.05,284.27 285.6,283 C287.15,281.73 288.45,282.47 290.2,281.3 C291.95,280.13 294.15,277.65 296.1,276 C298.05,274.35 299.97,271.3 301.9,271.4 C303.83,271.5 306.02,275.15 307.7,276.6 C309.38,278.05 310.4,281.27 312,280.1 C313.6,278.93 315.55,274.87 317.3,269.6 C319.05,264.33 320.75,255.22 322.5,248.5 C324.25,241.78 326.05,233.23 327.8,229.3 C329.55,225.37 331.25,225.93 333,224.9 C334.75,223.87 336.68,223.83 338.3,223.1 C339.92,222.37 341.25,220.05 342.7,220.5 C344.15,220.95 345.7,221.72 347,225.8 C348.3,229.88 349.18,237.42 350.5,245 C351.82,252.58 353.43,262.53 354.9,271.3 C356.37,280.07 357.68,289.42 359.3,297.6 C360.92,305.78 362.55,315 364.6,320.4 C366.65,325.8 369.27,328.2 371.6,330 C373.93,331.8 376.27,330.9 378.6,331.2 C380.93,331.5 383.27,331.12 385.6,331.8 C387.93,332.48 389.68,334 392.6,335.3 C395.52,336.6 398.57,338.3 403.1,339.6 C407.63,340.9 417.02,342.52 419.8,343.1" fill="none" stroke="#000" stroke-width="0.85" stroke-linejoin="round"/>
<polygon points="422.3,375.8 422.3,375.53 423.35,375.49 424.39,375.44 425.44,375.37 426.49,375.29 427.53,375.19 428.58,375.07 429.63,374.93 430.67,374.76 431.72,374.55 432.77,374.31 433.82,374.04 434.86,373.72 435.91,373.37 436.96,372.99 438,372.57 439.05,372.13 440.1,371.66 441.14,371.19 442.19,370.71 443.24,370.25 444.28,369.81 445.33,369.41 446.38,369.07 447.42,368.79 448.47,368.61 449.52,368.51 450.56,368.51 451.61,368.62 452.66,368.81 453.71,369.09 454.75,369.44 455.8,369.84 456.85,370.28 457.89,370.75 458.94,371.23 459.99,371.7 461.03,372.16 462.08,372.61 463.13,373.02 464.17,373.4 465.22,373.75 466.27,374.06 467.31,374.33 468.36,374.57 469.41,374.77 470.45,374.94 471.5,375.08 472.55,375.2 473.59,375.3 474.64,375.38 475.69,375.44 476.74,375.49 477.78,375.53 478.83,375.56 479.88,375.59 480.92,375.61 481.97,375.63 483.02,375.64 484.06,375.65 485.11,375.66 486.16,375.67 487.2,375.68 488.25,375.69 489.3,375.69 490.34,375.7 491.39,375.7 492.44,375.71 493.48,375.71 494.53,375.72 495.58,375.72 496.63,375.72 497.67,375.73 498.72,375.73 499.77,375.73 500.81,375.73 501.86,375.74 502.91,375.74 503.95,375.74 505,375.74 505,375.8" fill="#e2a222" fill-opacity="1.0"/>
<polygon points="439,375.8 439,375.27 440.2,375.24 441.41,375.21 442.61,375.18 443.81,375.15 445.01,375.11 446.22,375.07 447.42,375.03 448.62,374.98 449.82,374.93 451.03,374.88 452.23,374.81 453.43,374.74 454.63,374.66 455.84,374.57 457.04,374.46 458.24,374.33 459.44,374.17 460.65,373.97 461.85,373.72 463.05,373.39 464.25,372.96 465.46,372.4 466.66,371.67 467.86,370.73 469.06,369.54 470.27,368.04 471.47,366.2 472.67,363.99 473.87,361.38 475.08,358.38 476.28,355.02 477.48,351.36 478.68,347.49 479.89,343.56 481.09,339.74 482.29,336.25 483.49,333.31 484.7,331.17 485.9,330.04 487.1,330.04 488.3,331.17 489.51,333.31 490.71,336.25 491.91,339.74 493.11,343.56 494.32,347.49 495.52,351.36 496.72,355.02 497.92,358.38 499.13,361.38 500.33,363.99 501.53,366.2 502.73,368.04 503.94,369.54 505.14,370.73 506.34,371.67 507.54,372.4 508.75,372.96 509.95,373.39 511.15,373.72 512.35,373.97 513.56,374.17 514.76,374.33 515.96,374.46 517.16,374.57 518.37,374.66 519.57,374.74 520.77,374.81 521.97,374.88 523.18,374.93 524.38,374.98 525.58,375.03 526.78,375.07 527.99,375.11 529.19,375.15 530.39,375.18 531.59,375.21 532.8,375.24 534,375.27 534,375.8" fill="#555555" fill-opacity="1.0"/>
<polygon points="482.8,375.8 482.8,374.71 484.04,374.66 485.28,374.6 486.52,374.53 487.76,374.47 489,374.39 490.24,374.31 491.48,374.22 492.72,374.12 493.96,374.02 495.21,373.9 496.45,373.77 497.69,373.63 498.93,373.46 500.17,373.27 501.41,373.05 502.65,372.78 503.89,372.46 505.13,372.05 506.37,371.52 507.61,370.84 508.85,369.96 510.09,368.81 511.33,367.31 512.57,365.39 513.81,362.93 515.05,359.86 516.29,356.09 517.53,351.53 518.77,346.17 520.02,340.01 521.26,333.1 522.5,325.58 523.74,317.64 524.98,309.57 526.22,301.73 527.46,294.54 528.7,288.5 529.94,284.11 531.18,281.8 532.42,281.8 533.66,284.11 534.9,288.5 536.14,294.54 537.38,301.73 538.62,309.57 539.86,317.64 541.1,325.58 542.34,333.1 543.58,340.01 544.83,346.17 546.07,351.53 547.31,356.09 548.55,359.86 549.79,362.93 551.03,365.39 552.27,367.31 553.51,368.81 554.75,369.96 555.99,370.84 557.23,371.52 558.47,372.05 559.71,372.46 560.95,372.78 562.19,373.05 563.43,373.27 564.67,373.46 565.91,373.63 567.15,373.77 568.39,373.9 569.64,374.02 570.88,374.12 572.12,374.22 573.36,374.31 574.6,374.39 575.84,374.47 577.08,374.53 578.32,374.6 579.56,374.66 580.8,374.71 580.8,375.8" fill="#555555" fill-opacity="1.0"/>
<polygon points="422.3,375.8 422.3,375.8 423.5,375.8 424.7,375.8 425.9,375.8 427.1,375.8 428.3,375.8 429.5,375.8 430.7,375.8 431.9,375.8 433.1,375.8 434.3,375.8 435.5,375.8 436.7,375.79 437.9,375.78 439.1,375.77 440.3,375.75 441.5,375.72 442.7,375.67 443.9,375.58 445.1,375.46 446.3,375.27 447.5,374.99 448.7,374.6 449.9,374.05 451.1,373.31 452.3,372.34 453.5,371.09 454.7,369.53 455.9,367.64 457.1,365.41 458.3,362.86 459.5,360.04 460.7,357.02 461.9,353.92 463.1,350.86 464.3,347.99 465.5,345.48 466.7,343.46 467.9,342.06 469.1,341.37 470.3,341.43 471.5,342.24 472.7,343.75 473.9,345.87 475.1,348.45 476.3,351.36 477.5,354.44 478.7,357.54 479.9,360.53 481.1,363.31 482.3,365.8 483.5,367.98 484.7,369.81 485.9,371.32 487.1,372.52 488.3,373.45 489.5,374.15 490.7,374.67 491.9,375.04 493.1,375.3 494.3,375.48 495.5,375.6 496.7,375.68 497.9,375.73 499.1,375.76 500.3,375.78 501.5,375.79 502.7,375.79 503.9,375.8 505.1,375.8 506.3,375.8 507.5,375.8 508.7,375.8 509.9,375.8 511.1,375.8 512.3,375.8 513.5,375.8 514.7,375.8 515.9,375.8 517.1,375.8 517.1,375.8" fill="#a0183a" fill-opacity="0.87"/>
<polygon points="463.3,375.8 463.3,375.8 464.59,375.8 465.88,375.8 467.17,375.8 468.46,375.8 469.76,375.8 471.05,375.8 472.34,375.8 473.63,375.8 474.92,375.8 476.21,375.8 477.5,375.79 478.79,375.78 480.08,375.77 481.38,375.75 482.67,375.71 483.96,375.65 485.25,375.54 486.54,375.38 487.83,375.13 489.12,374.76 490.41,374.21 491.71,373.43 493,372.35 494.29,370.87 495.58,368.93 496.87,366.42 498.16,363.28 499.45,359.46 500.74,354.93 502.03,349.74 503.33,343.98 504.62,337.79 505.91,331.39 507.2,325.06 508.49,319.1 509.78,313.83 511.07,309.56 512.36,306.55 513.65,305 514.95,305 516.24,306.55 517.53,309.56 518.82,313.83 520.11,319.1 521.4,325.06 522.69,331.39 523.98,337.79 525.27,343.98 526.57,349.74 527.86,354.93 529.15,359.46 530.44,363.28 531.73,366.42 533.02,368.93 534.31,370.87 535.6,372.35 536.89,373.43 538.19,374.21 539.48,374.76 540.77,375.13 542.06,375.38 543.35,375.54 544.64,375.65 545.93,375.71 547.22,375.75 548.52,375.77 549.81,375.78 551.1,375.79 552.39,375.8 553.68,375.8 554.97,375.8 556.26,375.8 557.55,375.8 558.84,375.8 560.14,375.8 561.43,375.8 562.72,375.8 564.01,375.8 565.3,375.8 565.3,375.8" fill="#a0183a" fill-opacity="0.87"/>
<polygon points="453.7,375.8 453.7,375.69 454.78,375.68 455.85,375.68 456.93,375.67 458,375.66 459.08,375.65 460.16,375.65 461.23,375.64 462.31,375.63 463.38,375.62 464.46,375.6 465.54,375.59 466.61,375.57 467.69,375.56 468.76,375.54 469.84,375.51 470.92,375.48 471.99,375.44 473.07,375.38 474.14,375.31 475.22,375.22 476.29,375.09 477.37,374.92 478.45,374.69 479.52,374.39 480.6,374 481.67,373.51 482.75,372.91 483.83,372.18 484.9,371.31 485.98,370.32 487.05,369.21 488.13,368.01 489.21,366.75 490.28,365.49 491.36,364.27 492.43,363.16 493.51,362.25 494.59,361.59 495.66,361.24 496.74,361.24 497.81,361.59 498.89,362.25 499.97,363.16 501.04,364.27 502.12,365.49 503.19,366.75 504.27,368.01 505.35,369.21 506.42,370.32 507.5,371.31 508.57,372.18 509.65,372.91 510.73,373.51 511.8,374 512.88,374.39 513.95,374.69 515.03,374.92 516.11,375.09 517.18,375.22 518.26,375.31 519.33,375.38 520.41,375.44 521.48,375.48 522.56,375.51 523.64,375.54 524.71,375.56 525.79,375.57 526.86,375.59 527.94,375.6 529.02,375.62 530.09,375.63 531.17,375.64 532.24,375.65 533.32,375.65 534.4,375.66 535.47,375.67 536.55,375.68 537.62,375.68 538.7,375.69 538.7,375.8" fill="#e2a222" fill-opacity="1.0"/>
<polygon points="491,375.8 491,375.74 491.89,375.74 492.77,375.74 493.66,375.73 494.54,375.73 495.43,375.73 496.32,375.72 497.2,375.72 498.09,375.71 498.97,375.71 499.86,375.7 500.75,375.7 501.63,375.69 502.52,375.68 503.41,375.67 504.29,375.66 505.18,375.64 506.06,375.62 506.95,375.59 507.84,375.56 508.72,375.51 509.61,375.44 510.49,375.36 511.38,375.24 512.27,375.09 513.15,374.9 514.04,374.66 514.92,374.35 515.81,373.99 516.7,373.56 517.58,373.06 518.47,372.51 519.35,371.91 520.24,371.28 521.13,370.64 522.01,370.03 522.9,369.48 523.78,369.02 524.67,368.69 525.56,368.52 526.44,368.52 527.33,368.69 528.22,369.02 529.1,369.48 529.99,370.03 530.87,370.64 531.76,371.28 532.65,371.91 533.53,372.51 534.42,373.06 535.3,373.56 536.19,373.99 537.08,374.35 537.96,374.66 538.85,374.9 539.73,375.09 540.62,375.24 541.51,375.36 542.39,375.44 543.28,375.51 544.16,375.56 545.05,375.59 545.94,375.62 546.82,375.64 547.71,375.66 548.59,375.67 549.48,375.68 550.37,375.69 551.25,375.7 552.14,375.7 553.03,375.71 553.91,375.71 554.8,375.72 555.68,375.72 556.57,375.73 557.46,375.73 558.34,375.73 559.23,375.74 560.11,375.74 561,375.74 561,375.8" fill="#75ad35" fill-opacity="0.9"/>
<polygon points="475.5,375.8 475.5,375.78 476.26,375.78 477.02,375.77 477.78,375.77 478.54,375.77 479.3,375.77 480.06,375.77 480.82,375.77 481.58,375.76 482.34,375.76 483.09,375.76 483.85,375.76 484.61,375.75 485.37,375.75 486.13,375.75 486.89,375.74 487.65,375.73 488.41,375.73 489.17,375.71 489.93,375.7 490.69,375.68 491.45,375.65 492.21,375.62 492.97,375.57 493.73,375.51 494.49,375.43 495.25,375.33 496.01,375.21 496.77,375.06 497.53,374.88 498.28,374.67 499.04,374.45 499.8,374.2 500.56,373.94 501.32,373.68 502.08,373.43 502.84,373.2 503.6,373.02 504.36,372.88 505.12,372.81 505.88,372.81 506.64,372.88 507.4,373.02 508.16,373.2 508.92,373.43 509.68,373.68 510.44,373.94 511.2,374.2 511.96,374.45 512.72,374.67 513.47,374.88 514.23,375.06 514.99,375.21 515.75,375.33 516.51,375.43 517.27,375.51 518.03,375.57 518.79,375.62 519.55,375.65 520.31,375.68 521.07,375.7 521.83,375.71 522.59,375.73 523.35,375.73 524.11,375.74 524.87,375.75 525.63,375.75 526.39,375.75 527.15,375.76 527.91,375.76 528.66,375.76 529.42,375.76 530.18,375.77 530.94,375.77 531.7,375.77 532.46,375.77 533.22,375.77 533.98,375.77 534.74,375.78 535.5,375.78 535.5,375.8" fill="#7a2a8c" fill-opacity="0.9"/>
<polygon points="505.8,375.8 505.8,375.74 506.94,375.73 508.08,375.73 509.22,375.73 510.36,375.72 511.5,375.72 512.64,375.71 513.77,375.71 514.91,375.7 516.05,375.7 517.19,375.69 518.33,375.68 519.47,375.67 520.61,375.66 521.75,375.65 522.89,375.64 524.03,375.62 525.17,375.6 526.31,375.57 527.45,375.53 528.58,375.47 529.72,375.4 530.86,375.3 532,375.18 533.14,375.01 534.28,374.79 535.42,374.52 536.56,374.18 537.7,373.76 538.84,373.28 539.98,372.72 541.12,372.1 542.26,371.43 543.39,370.72 544.53,370.01 545.67,369.32 546.81,368.7 547.95,368.19 549.09,367.82 550.23,367.62 551.37,367.62 552.51,367.82 553.65,368.19 554.79,368.7 555.93,369.32 557.07,370.01 558.21,370.72 559.34,371.43 560.48,372.1 561.62,372.72 562.76,373.28 563.9,373.76 565.04,374.18 566.18,374.52 567.32,374.79 568.46,375.01 569.6,375.18 570.74,375.3 571.88,375.4 573.02,375.47 574.15,375.53 575.29,375.57 576.43,375.6 577.57,375.62 578.71,375.64 579.85,375.65 580.99,375.66 582.13,375.67 583.27,375.68 584.41,375.69 585.55,375.7 586.69,375.7 587.83,375.71 588.96,375.71 590.1,375.72 591.24,375.72 592.38,375.73 593.52,375.73 594.66,375.73 595.8,375.74 595.8,375.8" fill="#7a2a8c" fill-opacity="0.9"/>
<polygon points="522.2,375.8 522.2,375.69 523.25,375.68 524.31,375.68 525.36,375.67 526.41,375.67 527.47,375.66 528.52,375.65 529.57,375.64 530.63,375.64 531.68,375.63 532.73,375.62 533.78,375.61 534.84,375.6 535.89,375.58 536.94,375.57 538,375.55 539.05,375.54 540.1,375.51 541.16,375.49 542.21,375.45 543.26,375.41 544.32,375.36 545.37,375.29 546.42,375.2 547.48,375.09 548.53,374.94 549.58,374.75 550.64,374.5 551.69,374.2 552.74,373.82 553.79,373.36 554.85,372.81 555.9,372.15 556.95,371.4 558.01,370.55 559.06,369.61 560.11,368.59 561.17,367.51 562.22,366.4 563.27,365.29 564.33,364.23 565.38,363.26 566.43,362.43 567.49,361.78 568.54,361.36 569.59,361.2 570.65,361.31 571.7,361.68 572.75,362.28 573.81,363.08 574.86,364.02 575.91,365.07 576.96,366.17 578.02,367.28 579.07,368.37 580.12,369.41 581.18,370.37 582.23,371.24 583.28,372.01 584.34,372.68 585.39,373.25 586.44,373.73 587.5,374.13 588.55,374.45 589.6,374.7 590.66,374.9 591.71,375.06 592.76,375.18 593.82,375.27 594.87,375.35 595.92,375.4 596.97,375.45 598.03,375.48 599.08,375.51 600.13,375.53 601.19,375.55 602.24,375.57 603.29,375.58 604.35,375.59 605.4,375.61 605.4,375.8" fill="#75ad35" fill-opacity="0.9"/>
<line x1="422.3" y1="375.8" x2="605.4" y2="375.8" stroke="#999" stroke-width="0.9"/>
<line x1="496.2" y1="375.8" x2="496.2" y2="361.2" stroke="#1a1a1a" stroke-width="0.85"/>
<line x1="514.3" y1="375.8" x2="514.3" y2="304.8" stroke="#1a1a1a" stroke-width="0.85"/>
<line x1="531.8" y1="375.8" x2="531.8" y2="281.5" stroke="#1a1a1a" stroke-width="0.85"/>
<line x1="550.8" y1="375.8" x2="550.8" y2="367.6" stroke="#1a1a1a" stroke-width="0.85"/>
<line x1="569.7" y1="375.8" x2="569.7" y2="361.2" stroke="#1a1a1a" stroke-width="0.85"/>
<polyline points="421.6,363.72 422.49,364.26 423.37,365.69 424.25,365.19 425.13,364.8 426.01,365.59 426.88,363.39 427.75,365.24 428.62,364.25 429.48,364.29 430.34,363.82 431.2,363.96 432.06,362.91 432.91,362.41 433.75,363.04 434.6,362.3 435.44,360.97 436.27,362.46 437.1,362.02 437.93,361.82 438.75,360.51 439.57,360.32 440.39,359.42 441.2,358.62 442.01,358.94 442.81,358.61 443.6,357.59 444.39,358.9 445.17,356.03 445.94,356.13 446.7,355.74 447.45,356.61 448.18,355.01 448.9,354.42 449.61,353.46 450.3,352.96 450.97,351.98 451.62,352.98 452.26,352.05 452.87,351.66 453.47,349.82 454.04,351.35 454.59,348.19 455.12,346.71 455.63,347.21 456.12,346.75 456.59,346.42 457.05,344.4 457.49,344.74 457.92,344.73 458.34,342.14 458.75,341.42 459.16,339.93 459.56,340.49 459.96,340.11 460.35,339.23 460.75,338.47 461.14,338.07 461.54,336.36 461.94,336.13 462.33,333.99 462.73,333.29 463.14,333.21 463.54,331.67 463.95,331.84 464.35,331.6 464.76,330.12 465.18,328.52 465.6,327.72 466.02,328.4 466.44,326.09 466.87,325.91 467.31,324.87 467.76,324.31 468.22,324.26 468.69,322.34 469.18,320.97 469.68,322.23 470.21,320.64 470.75,320.27 471.32,319.06 471.92,318.94 472.54,318.62 473.18,318.06 473.84,316.28 474.5,315.61 475.17,315.52 475.83,314.78 476.48,314.4 477.11,312.88 477.71,311.09 478.28,312.36 478.82,311.9 479.36,311.1 479.89,311.11 480.45,309.84 481.04,308.28 481.68,308.57 482.39,307.18 483.16,307.52 483.98,306.27 484.84,305.99 485.7,305.51 486.55,305.23 487.37,304.16 488.14,305.46 488.87,304.22 489.57,306.69 490.25,307.7 490.9,309.2 491.55,308.86 492.2,308.98 492.84,309.27 493.49,312.63 494.13,311.11 494.77,313.52 495.4,311.95 496.04,314.07 496.67,314.97 497.29,314.91 497.91,314.63 498.51,313.84 499.11,313.34 499.7,314.08 500.27,312.94 500.82,311.67 501.35,311 501.86,309.23 502.35,309.59 502.8,308.75 503.23,306.35 503.63,306.01 504,305.75 504.35,303.65 504.68,304.64 504.99,303.39 505.27,301.28 505.54,301.31 505.8,300.96 506.04,298.09 506.27,298.58 506.49,297.23 506.71,296.37 506.91,296.21 507.12,294.57 507.32,293.11 507.51,292.28 507.71,292.44 507.92,292.07 508.12,290.77 508.33,289.84 508.54,289.08 508.76,289.15 508.98,287.76 509.21,286 509.44,285.45 509.67,285.63 509.92,283.5 510.16,282.76 510.41,282.14 510.67,280.53 510.93,281.03 511.2,277.99 511.48,279.67 511.76,277.47 512.05,276.03 512.35,276.24 512.65,273.98 512.97,274.7 513.29,274.01 513.61,272.22 513.95,271.5 514.29,271.6 514.64,269.64 514.99,269.29 515.35,268.69 515.72,268.72 516.09,266.46 516.47,266.03 516.86,265.99 517.25,262.6 517.65,263.4 518.05,261.46 518.46,260.71 518.88,262.59 519.32,260.59 519.78,260.72 520.27,258.76 520.79,258.58 521.35,257.2 521.96,256.43 522.61,256.11 523.31,255.63 524.08,256.03 524.91,254.27 525.79,254.18 526.68,253.34 527.56,253.35 528.41,252.22 529.18,253.98 529.86,253.14 530.47,254.01 530.99,254.47 531.45,256.08 531.86,256.64 532.21,257.24 532.53,258.38 532.82,259.54 533.09,260.88 533.34,261.74 533.59,263.29 533.83,264.51 534.05,264.77 534.27,264.36 534.48,267.43 534.68,268.62 534.88,267.76 535.07,268.6 535.25,268.32 535.42,271.16 535.59,270.76 535.76,273.58 535.92,271.4 536.08,274.01 536.24,275.26 536.39,275.33 536.54,275.87 536.69,277.43 536.83,277.71 536.98,278.66 537.12,279.71 537.27,280.19 537.42,281.26 537.56,282.83 537.71,282.86 537.86,284.11 538,284.33 538.15,286.37 538.3,285.71 538.44,288.16 538.59,286.26 538.74,288.63 538.89,289.04 539.03,291.76 539.18,292.13 539.33,291.93 539.48,293.34 539.62,295.59 539.77,295.51 539.92,296.85 540.07,296.3 540.22,297.21 540.36,299.57 540.51,301.69 540.66,300.61 540.81,302.31 540.96,302.14 541.1,304.58 541.25,304.29 541.4,305.2 541.55,305.09 541.69,307.02 541.84,308.34 541.99,310.07 542.14,309.18 542.29,311.58 542.44,311.55 542.59,312.48 542.75,312.9 542.9,313.26 543.05,314.49 543.21,317.36 543.37,316.27 543.53,317.68 543.69,319.64 543.85,318.27 544.01,320.93 544.18,321.14 544.34,322.5 544.51,323.84 544.68,324 544.86,324.84 545.03,326.35 545.21,327.15 545.39,327.06 545.58,328.3 545.77,328.35 545.96,331.05 546.16,330.16 546.36,332 546.57,333.95 546.79,334.15 547.01,334.24 547.24,334.8 547.48,335.74 547.72,337.68 547.98,338.15 548.25,338.78 548.52,341.48 548.81,339.95 549.11,341.07 549.42,342.03 549.74,343.34 550.08,344.29 550.43,344.78 550.79,346.38 551.18,347.12 551.58,347.4 552.02,346.73 552.48,349.82 552.97,349.38 553.49,350.32 554.05,351.36 554.65,351.23 555.29,352.11 555.97,353.23 556.7,353.38 557.48,354.2 558.29,353.68 559.14,354.36 560.02,353.98 560.92,354.69 561.84,355.23 562.77,354.97 563.71,354.25 564.65,355.23 565.58,355.59 566.51,356.41 567.42,355.74 568.32,355.66 569.19,355.34 570.05,357.81 570.88,356.05 571.69,356.28 572.46,357.37 573.2,356.67 573.9,359.22 574.59,359.17 575.26,359.98 575.91,359.58 576.56,360.55 577.22,362.16 577.87,362.83 578.54,364.81 579.22,364.2 579.93,362.68 580.65,364.61 581.39,364.81 582.15,366.33 582.92,365.97 583.7,366.82 584.5,366.69 585.3,367.75 586.12,368.74 586.94,367.66 587.77,367.03 588.6,368.08 589.44,370.23 590.28,369.62 591.12,369.58 591.97,369.41 592.82,371.12 593.68,370.87 594.54,370.86 595.4,370.82 596.26,371.35 597.13,371.48 597.99,372.34 598.87,373.05 599.74,371.01 600.61,371.57 601.49,372.71 602.37,373.03 603.25,372.07 604.14,372.89 605.02,373.21" fill="none" stroke="#f00000" stroke-width="2.7" stroke-linejoin="round"/>
<path d="M421.6,366.3 C423.43,365.82 429.3,364.5 432.6,363.4 C435.9,362.3 438.72,361.05 441.4,359.7 C444.08,358.35 446.52,357 448.7,355.3 C450.88,353.6 452.57,352.17 454.5,349.5 C456.43,346.83 458.35,342.95 460.3,339.3 C462.25,335.65 464.25,331.02 466.2,327.6 C468.15,324.18 470.05,321.23 472,318.8 C473.95,316.37 476.2,314.82 477.9,313 C479.6,311.18 480.63,309.12 482.2,307.9 C483.77,306.68 485.72,305.47 487.3,305.7 C488.88,305.93 489.98,307.72 491.7,309.3 C493.42,310.88 495.77,315.32 497.6,315.2 C499.43,315.08 501,312.37 502.7,308.6 C504.4,304.83 506.1,298.2 507.8,292.6 C509.5,287 511.2,279.87 512.9,275 C514.6,270.13 516.1,266.68 518,263.4 C519.9,260.12 522.45,256.92 524.3,255.3 C526.15,253.68 527.63,252.77 529.1,253.7 C530.57,254.63 531.77,256.5 533.1,260.9 C534.43,265.3 535.77,272.88 537.1,280.1 C538.43,287.32 539.77,296.43 541.1,304.2 C542.43,311.97 543.62,320 545.1,326.7 C546.58,333.4 548.12,339.85 550,344.4 C551.88,348.95 554,352.08 556.4,354 C558.8,355.92 561.73,355.23 564.4,355.9 C567.07,356.57 569.98,356.7 572.4,358 C574.82,359.3 576.22,361.82 578.9,363.7 C581.58,365.58 585.3,367.83 588.5,369.3 C591.7,370.77 595.28,371.7 598.1,372.5 C600.92,373.3 604.18,373.83 605.4,374.1" fill="none" stroke="#000" stroke-width="0.85" stroke-linejoin="round"/>
<polyline points="78.3,42.64 82.99,48.49 87.68,54.14 92.37,59.6 97.06,64.87 101.75,69.97 106.43,74.89 111.12,79.64 115.81,84.23 120.5,88.67 125.19,92.96 129.88,97.11 134.57,101.12 139.26,105 143.95,108.75 148.64,112.38 153.33,115.89 158.01,119.28 162.7,122.56 167.39,125.74 172.08,128.82 176.77,131.8 181.46,134.68 186.15,137.47 190.84,140.18 195.53,142.8 200.22,145.34 204.91,147.8 209.59,150.18 214.28,152.5 218.97,154.74 223.66,156.91 228.35,159.02 233.04,161.07 237.73,163.06 242.42,164.99 247.11,166.86 251.8,168.68 256.48,170.45 261.17,172.16 265.86,173.83 270.55,175.45 275.24,177.03 279.93,178.57 284.62,180.06 289.31,181.52 294,182.93 298.69,184.31 303.38,185.65 308.06,186.96 312.75,188.24 317.44,189.48 322.13,190.7 326.82,191.88 331.51,193.03 336.2,194.16 340.89,195.26 345.58,196.34 350.27,197.39 354.96,198.42 359.64,199.43 364.33,200.41 369.02,201.37 373.71,202.31 378.4,203.24 383.09,204.14 387.78,205.03 392.47,205.89 397.16,206.75 401.85,207.58 406.54,208.4 411.22,209.21 415.91,210 420.6,210.77 425.29,211.54 429.98,212.29 434.67,213.02 439.36,213.75 444.05,214.46 448.74,215.17 453.43,215.86 458.12,216.54 462.8,217.21 467.49,217.88 472.18,218.53 476.87,219.17 481.56,219.81 486.25,220.44 490.94,221.06 495.63,221.67 500.32,222.27 505.01,222.87 509.69,223.46 514.38,224.05 519.07,224.62 523.76,225.2 528.45,225.76 533.14,226.32 537.83,226.88 542.52,227.43 547.21,227.97 551.9,228.51 556.59,229.04 561.27,229.58 565.96,230.1 570.65,230.62 575.34,231.14 580.03,231.66 584.72,232.17 589.41,232.67 594.1,233.18 598.79,233.68 603.48,234.17 608.17,234.67 612.85,235.16 617.54,235.64 622.23,236.13 626.92,236.61 631.61,237.09 636.3,237.57" fill="none" stroke="#a3173b" stroke-width="5.7" stroke-linejoin="round"/>
<line x1="78.3" y1="437.8" x2="636.3" y2="441.5" stroke="#f0b02c" stroke-width="5.2"/>
<path d="M78.3,496.2 C87.92,494.83 106.05,491.95 136,488 C165.95,484.05 204,480.25 258,472.5 C312,464.75 396.95,450.62 460,441.5 C523.05,432.38 606.92,421.75 636.3,417.8" fill="none" stroke="#75ad35" stroke-width="5.2"/>
<path d="M90,499.5 C97.67,498.62 108,497.02 136,494.2 C164,491.38 204,487.83 258,482.6 C312,477.37 396.95,468.8 460,462.8 C523.05,456.8 606.92,449.3 636.3,446.6" fill="none" stroke="#7a2a8c" stroke-width="5.2"/>
<path d="M90.3,38.4 L98.2,52.3 L82.4,52.3 Z" fill="#fff" stroke="#a3173b" stroke-width="1.8"/>
<path d="M121.45,71.1 L129.35,85 L113.55,85 Z" fill="#fff" stroke="#a3173b" stroke-width="1.8"/>
<path d="M152.6,95.9 L160.5,109.8 L144.7,109.8 Z" fill="#fff" stroke="#a3173b" stroke-width="1.8"/>
<path d="M183.75,112.6 L191.65,126.5 L175.85,126.5 Z" fill="#fff" stroke="#a3173b" stroke-width="1.8"/>
<path d="M214.9,131 L222.8,144.9 L207,144.9 Z" fill="#fff" stroke="#a3173b" stroke-width="1.8"/>
<path d="M246.05,145.8 L253.95,159.7 L238.15,159.7 Z" fill="#fff" stroke="#a3173b" stroke-width="1.8"/>
<path d="M277.2,153.3 L285.1,167.2 L269.3,167.2 Z" fill="#fff" stroke="#a3173b" stroke-width="1.8"/>
<path d="M308.35,171.1 L316.25,185 L300.45,185 Z" fill="#fff" stroke="#a3173b" stroke-width="1.8"/>
<path d="M339.5,169.6 L347.4,183.5 L331.6,183.5 Z" fill="#fff" stroke="#a3173b" stroke-width="1.8"/>
<path d="M370.65,187.2 L378.55,201.1 L362.75,201.1 Z" fill="#fff" stroke="#a3173b" stroke-width="1.8"/>
<path d="M401.8,187.2 L409.7,201.1 L393.9,201.1 Z" fill="#fff" stroke="#a3173b" stroke-width="1.8"/>
<path d="M464.1,197.7 L472,211.6 L456.2,211.6 Z" fill="#fff" stroke="#a3173b" stroke-width="1.8"/>
<path d="M526.4,213.1 L534.3,227 L518.5,227 Z" fill="#fff" stroke="#a3173b" stroke-width="1.8"/>
<path d="M90.3,52.9 L98.2,66.8 L82.4,66.8 Z" fill="#a3173b" stroke="#000" stroke-width="2.0"/>
<path d="M121.45,94.6 L129.35,108.5 L113.55,108.5 Z" fill="#a3173b" stroke="#000" stroke-width="2.0"/>
<path d="M152.6,119.2 L160.5,133.1 L144.7,133.1 Z" fill="#a3173b" stroke="#000" stroke-width="2.0"/>
<path d="M183.75,137.9 L191.65,151.8 L175.85,151.8 Z" fill="#a3173b" stroke="#000" stroke-width="2.0"/>
<path d="M214.9,155.1 L222.8,169 L207,169 Z" fill="#a3173b" stroke="#000" stroke-width="2.0"/>
<path d="M246.05,168.2 L253.95,182.1 L238.15,182.1 Z" fill="#a3173b" stroke="#000" stroke-width="2.0"/>
<path d="M277.2,187.3 L285.1,201.2 L269.3,201.2 Z" fill="#a3173b" stroke="#000" stroke-width="2.0"/>
<path d="M308.35,192.3 L316.25,206.2 L300.45,206.2 Z" fill="#a3173b" stroke="#000" stroke-width="2.0"/>
<path d="M339.5,187.9 L347.4,201.8 L331.6,201.8 Z" fill="#a3173b" stroke="#000" stroke-width="2.0"/>
<path d="M370.65,208.4 L378.55,222.3 L362.75,222.3 Z" fill="#a3173b" stroke="#000" stroke-width="2.0"/>
<path d="M401.8,212.2 L409.7,226.1 L393.9,226.1 Z" fill="#a3173b" stroke="#000" stroke-width="2.0"/>
<path d="M464.1,208.4 L472,222.3 L456.2,222.3 Z" fill="#a3173b" stroke="#000" stroke-width="2.0"/>
<path d="M526.4,220.8 L534.3,234.7 L518.5,234.7 Z" fill="#a3173b" stroke="#000" stroke-width="2.0"/>
<path d="M90.3,428.1 L98.2,442 L82.4,442 Z" fill="#fff" stroke="#f0b02c" stroke-width="1.8"/>
<path d="M121.45,432.5 L129.35,446.4 L113.55,446.4 Z" fill="#fff" stroke="#f0b02c" stroke-width="1.8"/>
<path d="M152.6,436.7 L160.5,450.6 L144.7,450.6 Z" fill="#fff" stroke="#f0b02c" stroke-width="1.8"/>
<path d="M183.75,434.5 L191.65,448.4 L175.85,448.4 Z" fill="#fff" stroke="#f0b02c" stroke-width="1.8"/>
<path d="M214.9,428.1 L222.8,442 L207,442 Z" fill="#fff" stroke="#f0b02c" stroke-width="1.8"/>
<path d="M246.05,427.2 L253.95,441.1 L238.15,441.1 Z" fill="#fff" stroke="#f0b02c" stroke-width="1.8"/>
<path d="M277.2,430.4 L285.1,444.3 L269.3,444.3 Z" fill="#fff" stroke="#f0b02c" stroke-width="1.8"/>
<path d="M308.35,424.6 L316.25,438.5 L300.45,438.5 Z" fill="#fff" stroke="#f0b02c" stroke-width="1.8"/>
<path d="M339.5,421.7 L347.4,435.6 L331.6,435.6 Z" fill="#fff" stroke="#f0b02c" stroke-width="1.8"/>
<path d="M370.65,426.6 L378.55,440.5 L362.75,440.5 Z" fill="#fff" stroke="#f0b02c" stroke-width="1.8"/>
<path d="M401.8,426.6 L409.7,440.5 L393.9,440.5 Z" fill="#fff" stroke="#f0b02c" stroke-width="1.8"/>
<path d="M464.1,424.8 L472,438.7 L456.2,438.7 Z" fill="#fff" stroke="#f0b02c" stroke-width="1.8"/>
<path d="M526.4,429.2 L534.3,443.1 L518.5,443.1 Z" fill="#fff" stroke="#f0b02c" stroke-width="1.8"/>
<path d="M214.9,477.7 L222.8,491.6 L207,491.6 Z" fill="#fff" stroke="#7a2a8c" stroke-width="1.8"/>
<path d="M246.05,471.2 L253.95,485.1 L238.15,485.1 Z" fill="#fff" stroke="#7a2a8c" stroke-width="1.8"/>
<path d="M277.2,477.7 L285.1,491.6 L269.3,491.6 Z" fill="#fff" stroke="#7a2a8c" stroke-width="1.8"/>
<path d="M339.5,473.2 L347.4,487.1 L331.6,487.1 Z" fill="#fff" stroke="#7a2a8c" stroke-width="1.8"/>
<path d="M401.8,465.4 L409.7,479.3 L393.9,479.3 Z" fill="#fff" stroke="#7a2a8c" stroke-width="1.8"/>
<path d="M464.1,457.7 L472,471.6 L456.2,471.6 Z" fill="#fff" stroke="#7a2a8c" stroke-width="1.8"/>
<path d="M526.4,455.2 L534.3,469.1 L518.5,469.1 Z" fill="#fff" stroke="#7a2a8c" stroke-width="1.8"/>
<path d="M90.3,410.3 L98.2,424.2 L82.4,424.2 Z" fill="#f0b02c" stroke="#000" stroke-width="2.0"/>
<path d="M121.45,415.2 L129.35,429.1 L113.55,429.1 Z" fill="#f0b02c" stroke="#000" stroke-width="2.0"/>
<path d="M152.6,434.2 L160.5,448.1 L144.7,448.1 Z" fill="#f0b02c" stroke="#000" stroke-width="2.0"/>
<path d="M183.75,430.1 L191.65,444 L175.85,444 Z" fill="#f0b02c" stroke="#000" stroke-width="2.0"/>
<path d="M214.9,441.8 L222.8,455.7 L207,455.7 Z" fill="#f0b02c" stroke="#000" stroke-width="2.0"/>
<path d="M246.05,438 L253.95,451.9 L238.15,451.9 Z" fill="#f0b02c" stroke="#000" stroke-width="2.0"/>
<path d="M277.2,437.1 L285.1,451 L269.3,451 Z" fill="#f0b02c" stroke="#000" stroke-width="2.0"/>
<path d="M308.35,437.1 L316.25,451 L300.45,451 Z" fill="#f0b02c" stroke="#000" stroke-width="2.0"/>
<path d="M339.5,432.7 L347.4,446.6 L331.6,446.6 Z" fill="#f0b02c" stroke="#000" stroke-width="2.0"/>
<path d="M370.65,435.9 L378.55,449.8 L362.75,449.8 Z" fill="#f0b02c" stroke="#000" stroke-width="2.0"/>
<path d="M401.8,432.2 L409.7,446.1 L393.9,446.1 Z" fill="#f0b02c" stroke="#000" stroke-width="2.0"/>
<path d="M464.1,436.1 L472,450 L456.2,450 Z" fill="#f0b02c" stroke="#000" stroke-width="2.0"/>
<path d="M526.4,428.9 L534.3,442.8 L518.5,442.8 Z" fill="#f0b02c" stroke="#000" stroke-width="2.0"/>
<path d="M152.6,484.9 L160.5,498.8 L144.7,498.8 Z" fill="#7a2a8c" stroke="#000" stroke-width="2.0"/>
<path d="M183.75,484.9 L191.65,498.8 L175.85,498.8 Z" fill="#7a2a8c" stroke="#000" stroke-width="2.0"/>
<path d="M214.9,484.9 L222.8,498.8 L207,498.8 Z" fill="#7a2a8c" stroke="#000" stroke-width="2.0"/>
<path d="M246.05,479.6 L253.95,493.5 L238.15,493.5 Z" fill="#7a2a8c" stroke="#000" stroke-width="2.0"/>
<path d="M277.2,468.5 L285.1,482.4 L269.3,482.4 Z" fill="#7a2a8c" stroke="#000" stroke-width="2.0"/>
<path d="M308.35,467.6 L316.25,481.5 L300.45,481.5 Z" fill="#7a2a8c" stroke="#000" stroke-width="2.0"/>
<path d="M339.5,467.6 L347.4,481.5 L331.6,481.5 Z" fill="#7a2a8c" stroke="#000" stroke-width="2.0"/>
<path d="M370.65,455 L378.55,468.9 L362.75,468.9 Z" fill="#7a2a8c" stroke="#000" stroke-width="2.0"/>
<path d="M401.8,455 L409.7,468.9 L393.9,468.9 Z" fill="#7a2a8c" stroke="#000" stroke-width="2.0"/>
<path d="M464.1,453.5 L472,467.4 L456.2,467.4 Z" fill="#7a2a8c" stroke="#000" stroke-width="2.0"/>
<path d="M526.4,449.9 L534.3,463.8 L518.5,463.8 Z" fill="#7a2a8c" stroke="#000" stroke-width="2.0"/>
<path d="M90.3,484.3 L98.2,498.2 L82.4,498.2 Z" fill="#75ad35" stroke="#000" stroke-width="2.0"/>
<path d="M121.45,483.8 L129.35,497.7 L113.55,497.7 Z" fill="#75ad35" stroke="#000" stroke-width="2.0"/>
<path d="M152.6,476.5 L160.5,490.4 L144.7,490.4 Z" fill="#75ad35" stroke="#000" stroke-width="2.0"/>
<path d="M183.75,471.2 L191.65,485.1 L175.85,485.1 Z" fill="#75ad35" stroke="#000" stroke-width="2.0"/>
<path d="M214.9,465.4 L222.8,479.3 L207,479.3 Z" fill="#75ad35" stroke="#000" stroke-width="2.0"/>
<path d="M246.05,461.2 L253.95,475.1 L238.15,475.1 Z" fill="#75ad35" stroke="#000" stroke-width="2.0"/>
<path d="M277.2,458.8 L285.1,472.7 L269.3,472.7 Z" fill="#75ad35" stroke="#000" stroke-width="2.0"/>
<path d="M308.35,455 L316.25,468.9 L300.45,468.9 Z" fill="#75ad35" stroke="#000" stroke-width="2.0"/>
<path d="M339.5,448 L347.4,461.9 L331.6,461.9 Z" fill="#75ad35" stroke="#000" stroke-width="2.0"/>
<path d="M370.65,447.2 L378.55,461.1 L362.75,461.1 Z" fill="#75ad35" stroke="#000" stroke-width="2.0"/>
<path d="M401.8,443.3 L409.7,457.2 L393.9,457.2 Z" fill="#75ad35" stroke="#000" stroke-width="2.0"/>
<path d="M464.1,436.3 L472,450.2 L456.2,450.2 Z" fill="#75ad35" stroke="#000" stroke-width="2.0"/>
<path d="M526.4,429.1 L534.3,443 L518.5,443 Z" fill="#75ad35" stroke="#000" stroke-width="2.0"/>
<text x="639.54" y="248" class="b" font-size="25.3" fill="#b23a55">S</text>
<text x="656.03" y="249.8" class="b" font-size="14.9" fill="#b23a55">H</text>
<text x="617.69" y="408.1" class="b" font-size="23.5" fill="#75ad35">S</text>
<text x="632.99" y="409.9" class="b" font-size="15.2" fill="#75ad35">up</text>
<text x="641.39" y="450.1" class="b" font-size="23.8" fill="#f0b02c">SS</text>
<text x="673.14" y="452" class="b" font-size="13.3" fill="#f0b02c">H</text>
<text x="584.5" y="476.5" class="b" font-size="23.3" fill="#7a2a8c">SS</text>
<text x="617.49" y="479.5" class="b" font-size="14.5" fill="#7a2a8c">2</text>
<text x="0.05" y="533.2" class="b" font-size="25.1">(b)</text>
<line x1="79.5" y1="521" x2="79.5" y2="999.6" stroke="#000" stroke-width="1.7"/>
<line x1="78.7" y1="998.9" x2="647" y2="998.9" stroke="#000" stroke-width="1.6"/>
<line x1="73" y1="521.6" x2="79.5" y2="521.6" stroke="#000" stroke-width="1.6"/>
<text x="36.28" y="534.75" class="r" font-size="25.5">0.8</text>
<line x1="73" y1="641" x2="79.5" y2="641" stroke="#000" stroke-width="1.6"/>
<text x="36.28" y="649.2" class="r" font-size="25.5">0.6</text>
<line x1="73" y1="760.3" x2="79.5" y2="760.3" stroke="#000" stroke-width="1.6"/>
<text x="36.02" y="768.9" class="r" font-size="25.5">0.4</text>
<line x1="73" y1="879.5" x2="79.5" y2="879.5" stroke="#000" stroke-width="1.6"/>
<text x="36.53" y="887.9" class="r" font-size="25.5">0.2</text>
<line x1="73" y1="998.9" x2="79.5" y2="998.9" stroke="#000" stroke-width="1.6"/>
<text x="56.64" y="1009.85" class="r" font-size="25.5">0</text>
<text x="69.72" y="1028.3" class="r" font-size="25.3">0</text>
<line x1="154.8" y1="998.9" x2="154.8" y2="1005.5" stroke="#000" stroke-width="1.6"/>
<text x="135.72" y="1028.3" class="r" font-size="25.3">0.5</text>
<line x1="231.3" y1="998.9" x2="231.3" y2="1005.5" stroke="#000" stroke-width="1.6"/>
<text x="222.4" y="1028.3" class="r" font-size="25.3">1</text>
<line x1="307.8" y1="998.9" x2="307.8" y2="1005.5" stroke="#000" stroke-width="1.6"/>
<text x="288.27" y="1028.3" class="r" font-size="25.3">1.5</text>
<line x1="384.3" y1="998.9" x2="384.3" y2="1005.5" stroke="#000" stroke-width="1.6"/>
<text x="375.78" y="1028.3" class="r" font-size="25.3">2</text>
<line x1="460.8" y1="998.9" x2="460.8" y2="1005.5" stroke="#000" stroke-width="1.6"/>
<text x="441.59" y="1028.3" class="r" font-size="25.3">2.5</text>
<line x1="537.3" y1="998.9" x2="537.3" y2="1005.5" stroke="#000" stroke-width="1.6"/>
<text x="528.78" y="1028.3" class="r" font-size="25.3">3</text>
<line x1="613.8" y1="998.9" x2="613.8" y2="1005.5" stroke="#000" stroke-width="1.6"/>
<text x="594.72" y="1028.3" class="r" font-size="25.3">3.5</text>
<text transform="translate(24.4,924.2) rotate(-90)" class="b" font-size="24.8">Clean Si atom density (ML)</text>
<text x="163.69" y="1054.3" class="b" font-size="24.7">Photon Irradiance (x10</text>
<text x="430.52" y="1046.4" class="b" font-size="16.5">20</text>
<text x="455.89" y="1054.3" class="b" font-size="24.7" textLength="81.9" lengthAdjust="spacing">ph / cm</text>
<text x="536.62" y="1046.4" class="b" font-size="16.5">2</text>
<text x="547.6" y="1054.3" class="b" font-size="24.7">)</text>
<line x1="78" y1="1071.7" x2="622" y2="1071.7" stroke="#000" stroke-width="1.6"/>
<line x1="78" y1="1054.3" x2="78" y2="1075.6" stroke="#000" stroke-width="1.6"/>
<path d="M639,1071.7 L618.5,1064.7 L623,1071.7 L618.5,1078.8 Z" fill="#000"/>
<text x="71.06" y="1099.2" class="r" font-size="24.8">0</text>
<line x1="229.6" y1="1071.7" x2="229.6" y2="1075.6" stroke="#000" stroke-width="1.6"/>
<text x="215.77" y="1099.2" class="r" font-size="24.8">50</text>
<line x1="382" y1="1071.7" x2="382" y2="1075.6" stroke="#000" stroke-width="1.6"/>
<text x="360.86" y="1099.2" class="r" font-size="24.8">100</text>
<line x1="533.7" y1="1071.7" x2="533.7" y2="1075.6" stroke="#000" stroke-width="1.6"/>
<text x="512.56" y="1099.2" class="r" font-size="24.8">150</text>
<text x="231.47" y="1125.4" class="b" font-size="25.0">Irradiation Time (min)</text>
<polygon points="78.3,999 84.69,980.46 91.08,962.77 97.46,945.89 103.85,929.78 110.24,914.41 116.63,899.73 123.01,885.72 129.4,872.33 135.79,859.55 142.18,847.34 148.56,835.66 154.95,824.51 161.34,813.84 167.73,803.64 174.11,793.89 180.5,784.56 186.89,775.62 193.28,767.07 199.67,758.88 206.05,751.04 212.44,743.52 218.83,736.32 225.22,729.41 231.6,722.79 237.99,716.43 244.38,710.33 250.77,704.47 257.15,698.84 263.54,693.43 269.93,688.23 276.32,683.22 282.7,678.41 289.09,673.77 295.48,669.31 301.87,665.01 308.26,660.86 314.64,656.86 321.03,652.99 327.42,649.26 333.81,645.66 340.19,642.18 346.58,638.81 352.97,635.55 359.36,632.39 365.74,629.33 372.13,626.36 378.52,623.48 384.91,620.69 391.29,617.97 397.68,615.34 404.07,612.77 410.46,610.28 416.84,607.85 423.23,605.48 429.62,603.17 436.01,600.92 442.4,598.72 448.78,596.57 455.17,594.47 461.56,592.42 467.95,590.41 474.33,588.44 480.72,586.51 487.11,584.62 493.5,582.77 499.88,580.95 506.27,579.16 512.66,577.4 519.05,575.68 525.43,573.98 531.82,572.3 538.21,570.65 544.6,569.03 550.99,567.43 557.37,565.85 563.76,564.29 570.15,562.75 576.54,561.23 582.92,559.73 589.31,558.24 595.7,556.77 602.09,555.32 608.47,553.88 614.86,552.45 621.25,551.03 627.64,549.63 634.02,548.24 640.41,546.87 646.8,545.5 646.8,580.58 640.41,581.76 634.02,582.96 627.64,584.2 621.25,585.46 614.86,586.76 608.47,588.09 602.09,589.45 595.7,590.84 589.31,592.26 582.92,593.72 576.54,595.22 570.15,596.75 563.76,598.32 557.37,599.93 550.99,601.58 544.6,603.27 538.21,604.99 531.82,606.76 525.43,608.58 519.05,610.44 512.66,612.34 506.27,614.29 499.88,616.29 493.5,618.33 487.11,620.43 480.72,622.57 474.33,624.77 467.95,627.03 461.56,629.33 455.17,631.7 448.78,634.12 442.4,636.6 436.01,639.15 429.62,641.76 423.23,644.43 416.84,647.16 410.46,649.97 404.07,652.84 397.68,655.79 391.29,658.81 384.91,661.9 378.52,665.07 372.13,668.33 365.74,671.66 359.36,675.08 352.97,678.58 346.58,682.18 340.19,685.87 333.81,689.65 327.42,693.53 321.03,697.51 314.64,701.59 308.26,705.79 301.87,710.09 295.48,714.52 289.09,719.06 282.7,723.72 276.32,728.51 269.93,733.44 263.54,738.51 257.15,743.72 250.77,749.08 244.38,754.6 237.99,760.29 231.6,766.15 225.22,772.19 218.83,778.42 212.44,784.84 206.05,791.48 199.67,798.35 193.28,805.44 186.89,812.79 180.5,820.4 174.11,828.29 167.73,836.48 161.34,844.99 154.95,853.85 148.56,863.07 142.18,872.68 135.79,882.72 129.4,893.21 123.01,904.2 116.63,915.72 110.24,927.83 103.85,940.56 97.46,953.98 91.08,968.14 84.69,983.12 78.3,999" fill="#e8bcc6"/>
<polygon points="78.3,999 84.69,995.52 91.08,992.07 97.46,988.66 103.85,985.29 110.24,981.95 116.63,978.64 123.01,975.37 129.4,972.14 135.79,968.93 142.18,965.76 148.56,962.63 154.95,959.52 161.34,956.45 167.73,953.41 174.11,950.4 180.5,947.42 186.89,944.47 193.28,941.56 199.67,938.67 206.05,935.81 212.44,932.99 218.83,930.19 225.22,927.42 231.6,924.68 237.99,921.97 244.38,919.28 250.77,916.63 257.15,914 263.54,911.4 269.93,908.82 276.32,906.28 282.7,903.75 289.09,901.26 295.48,898.79 301.87,896.35 308.26,893.93 314.64,891.53 321.03,889.17 327.42,886.82 333.81,884.5 340.19,882.21 346.58,879.93 352.97,877.69 359.36,875.46 365.74,873.26 372.13,871.08 378.52,868.92 384.91,866.79 391.29,864.68 397.68,862.59 404.07,860.52 410.46,858.47 416.84,856.44 423.23,854.44 429.62,852.45 436.01,850.49 442.4,848.55 448.78,846.62 455.17,844.72 461.56,842.84 467.95,840.97 474.33,839.13 480.72,837.3 487.11,835.49 493.5,833.71 499.88,831.94 506.27,830.18 512.66,828.45 519.05,826.74 525.43,825.04 531.82,823.36 538.21,821.7 544.6,820.05 550.99,818.42 557.37,816.81 563.76,815.22 570.15,813.64 576.54,812.08 582.92,810.53 589.31,809 595.7,807.49 602.09,805.99 608.47,804.51 614.86,803.04 621.25,801.59 627.64,800.15 634.02,798.73 640.41,797.32 646.8,795.93 646.8,832.47 640.41,833.64 634.02,834.82 627.64,836.01 621.25,837.21 614.86,838.43 608.47,839.66 602.09,840.89 595.7,842.15 589.31,843.41 582.92,844.69 576.54,845.98 570.15,847.28 563.76,848.59 557.37,849.92 550.99,851.27 544.6,852.62 538.21,853.99 531.82,855.37 525.43,856.77 519.05,858.18 512.66,859.61 506.27,861.05 499.88,862.5 493.5,863.97 487.11,865.45 480.72,866.95 474.33,868.46 467.95,869.99 461.56,871.53 455.17,873.09 448.78,874.67 442.4,876.26 436.01,877.86 429.62,879.49 423.23,881.13 416.84,882.78 410.46,884.45 404.07,886.14 397.68,887.85 391.29,889.57 384.91,891.31 378.52,893.07 372.13,894.84 365.74,896.64 359.36,898.45 352.97,900.28 346.58,902.12 340.19,903.99 333.81,905.87 327.42,907.78 321.03,909.7 314.64,911.64 308.26,913.6 301.87,915.58 295.48,917.59 289.09,919.61 282.7,921.65 276.32,923.71 269.93,925.79 263.54,927.9 257.15,930.02 250.77,932.17 244.38,934.33 237.99,936.52 231.6,938.73 225.22,940.97 218.83,943.22 212.44,945.5 206.05,947.8 199.67,950.13 193.28,952.47 186.89,954.85 180.5,957.24 174.11,959.66 167.73,962.1 161.34,964.57 154.95,967.06 148.56,969.58 142.18,972.12 135.79,974.69 129.4,977.29 123.01,979.91 116.63,982.55 110.24,985.23 103.85,987.93 97.46,990.65 91.08,993.41 84.69,996.19 78.3,999" fill="#d9e8c8"/>
<path d="M78.3,999 L84.69,980.06 L91.08,962.41 L97.46,945.91 L103.85,930.45 L110.24,915.94 L116.63,902.29 L123.01,889.42 L129.4,877.25 L135.79,865.74 L142.18,854.82 L148.56,844.44 L154.95,834.56 L161.34,825.14 L167.73,816.14 L174.11,807.53 L180.5,799.28 L186.89,791.37 L193.28,783.76 L199.67,776.45 L206.05,769.41 L212.44,762.62 L218.83,756.07 L225.22,749.75 L231.6,743.64 L237.99,737.72 L244.38,732 L250.77,726.46 L257.15,721.08 L263.54,715.87 L269.93,710.81 L276.32,705.9 L282.7,701.13 L289.09,696.5 L295.48,691.99 L301.87,687.61 L308.26,683.35 L314.64,679.21 L321.03,675.18 L327.42,671.25 L333.81,667.43 L340.19,663.71 L346.58,660.08 L352.97,656.55 L359.36,653.11 L365.74,649.76 L372.13,646.49 L378.52,643.31 L384.91,640.2 L391.29,637.18 L397.68,634.23 L404.07,631.35 L410.46,628.55 L416.84,625.81 L423.23,623.14 L429.62,620.54 L436.01,618.01 L442.4,615.53 L448.78,613.12 L455.17,610.76 L461.56,608.47 L467.95,606.23 L474.33,604.04 L480.72,601.91 L487.11,599.83 L493.5,597.8 L499.88,595.82 L506.27,593.89 L512.66,592.01 L519.05,590.17 L525.43,588.38 L531.82,586.63 L538.21,584.92 L544.6,583.26 L550.99,581.63 L557.37,580.05 L563.76,578.5 L570.15,576.99 L576.54,575.52 L582.92,574.08 L589.31,572.68 L595.7,571.31 L602.09,569.98 L608.47,568.67 L614.86,567.4 L621.25,566.16 L627.64,564.95 L634.02,563.77 L640.41,562.62 L646.8,561.5" fill="none" stroke="#a3173b" stroke-width="3.8"/>
<path d="M78.3,999 L84.69,995.85 L91.08,992.72 L97.46,989.63 L103.85,986.57 L110.24,983.54 L116.63,980.54 L123.01,977.57 L129.4,974.63 L135.79,971.71 L142.18,968.83 L148.56,965.97 L154.95,963.15 L161.34,960.35 L167.73,957.57 L174.11,954.83 L180.5,952.11 L186.89,949.42 L193.28,946.75 L199.67,944.12 L206.05,941.5 L212.44,938.92 L218.83,936.35 L225.22,933.82 L231.6,931.31 L237.99,928.82 L244.38,926.36 L250.77,923.92 L257.15,921.51 L263.54,919.12 L269.93,916.75 L276.32,914.41 L282.7,912.09 L289.09,909.79 L295.48,907.52 L301.87,905.27 L308.26,903.04 L314.64,900.83 L321.03,898.64 L327.42,896.48 L333.81,894.33 L340.19,892.21 L346.58,890.11 L352.97,888.03 L359.36,885.97 L365.74,883.93 L372.13,881.91 L378.52,879.91 L384.91,877.93 L391.29,875.97 L397.68,874.03 L404.07,872.11 L410.46,870.2 L416.84,868.32 L423.23,866.45 L429.62,864.61 L436.01,862.78 L442.4,860.97 L448.78,859.17 L455.17,857.4 L461.56,855.64 L467.95,853.9 L474.33,852.17 L480.72,850.47 L487.11,848.78 L493.5,847.1 L499.88,845.45 L506.27,843.81 L512.66,842.18 L519.05,840.57 L525.43,838.98 L531.82,837.41 L538.21,835.84 L544.6,834.3 L550.99,832.77 L557.37,831.25 L563.76,829.75 L570.15,828.27 L576.54,826.79 L582.92,825.34 L589.31,823.9 L595.7,822.47 L602.09,821.05 L608.47,819.65 L614.86,818.27 L621.25,816.89 L627.64,815.54 L634.02,814.19 L640.41,812.86 L646.8,811.54" fill="none" stroke="#75ad35" stroke-width="3.9"/>
<line x1="79.5" y1="999" x2="290" y2="548" stroke="#000" stroke-width="2.6" stroke-dasharray="2.4,2.4"/>
<line x1="290" y1="548" x2="302.5" y2="522" stroke="#bbb" stroke-width="2.6" stroke-dasharray="2.4,2.4"/>
<g stroke="#75ad35" stroke-width="1.7"><line x1="103.7" y1="987.5" x2="114.1" y2="987.5"/><line x1="103.7" y1="982.5" x2="103.7" y2="992.5"/><line x1="114.1" y1="982.5" x2="114.1" y2="992.5"/><line x1="108.9" y1="983.5" x2="108.9" y2="991.5"/><line x1="103.9" y1="983.5" x2="113.9" y2="983.5"/><line x1="103.9" y1="991.5" x2="113.9" y2="991.5"/></g>
<g stroke="#75ad35" stroke-width="1.7"><line x1="129.1" y1="975" x2="149.9" y2="975"/><line x1="129.1" y1="970" x2="129.1" y2="980"/><line x1="149.9" y1="970" x2="149.9" y2="980"/><line x1="139.5" y1="970" x2="139.5" y2="980"/><line x1="134.5" y1="970" x2="144.5" y2="970"/><line x1="134.5" y1="980" x2="144.5" y2="980"/></g>
<g stroke="#75ad35" stroke-width="1.7"><line x1="154.49" y1="962" x2="185.71" y2="962"/><line x1="154.49" y1="957" x2="154.49" y2="967"/><line x1="185.71" y1="957" x2="185.71" y2="967"/><line x1="170.1" y1="956" x2="170.1" y2="968"/><line x1="165.1" y1="956" x2="175.1" y2="956"/><line x1="165.1" y1="968" x2="175.1" y2="968"/></g>
<g stroke="#75ad35" stroke-width="1.7"><line x1="179.89" y1="950.7" x2="221.51" y2="950.7"/><line x1="179.89" y1="945.7" x2="179.89" y2="955.7"/><line x1="221.51" y1="945.7" x2="221.51" y2="955.7"/><line x1="200.7" y1="942.7" x2="200.7" y2="958.7"/><line x1="195.7" y1="942.7" x2="205.7" y2="942.7"/><line x1="195.7" y1="958.7" x2="205.7" y2="958.7"/></g>
<g stroke="#75ad35" stroke-width="1.7"><line x1="205.29" y1="939.9" x2="257.31" y2="939.9"/><line x1="205.29" y1="934.9" x2="205.29" y2="944.9"/><line x1="257.31" y1="934.9" x2="257.31" y2="944.9"/><line x1="231.3" y1="930.9" x2="231.3" y2="948.9"/><line x1="226.3" y1="930.9" x2="236.3" y2="930.9"/><line x1="226.3" y1="948.9" x2="236.3" y2="948.9"/></g>
<g stroke="#75ad35" stroke-width="1.7"><line x1="230.69" y1="919.7" x2="293.11" y2="919.7"/><line x1="230.69" y1="914.7" x2="230.69" y2="924.7"/><line x1="293.11" y1="914.7" x2="293.11" y2="924.7"/><line x1="261.9" y1="909.7" x2="261.9" y2="929.7"/><line x1="256.9" y1="909.7" x2="266.9" y2="909.7"/><line x1="256.9" y1="929.7" x2="266.9" y2="929.7"/></g>
<g stroke="#75ad35" stroke-width="1.7"><line x1="256.09" y1="915.3" x2="328.91" y2="915.3"/><line x1="256.09" y1="910.3" x2="256.09" y2="920.3"/><line x1="328.91" y1="910.3" x2="328.91" y2="920.3"/><line x1="292.5" y1="904.3" x2="292.5" y2="926.3"/><line x1="287.5" y1="904.3" x2="297.5" y2="904.3"/><line x1="287.5" y1="926.3" x2="297.5" y2="926.3"/></g>
<g stroke="#75ad35" stroke-width="1.7"><line x1="281.48" y1="898" x2="364.72" y2="898"/><line x1="281.48" y1="893" x2="281.48" y2="903"/><line x1="364.72" y1="893" x2="364.72" y2="903"/><line x1="323.1" y1="886" x2="323.1" y2="910"/><line x1="318.1" y1="886" x2="328.1" y2="886"/><line x1="318.1" y1="910" x2="328.1" y2="910"/></g>
<g stroke="#75ad35" stroke-width="1.7"><line x1="306.88" y1="896" x2="400.52" y2="896"/><line x1="306.88" y1="891" x2="306.88" y2="901"/><line x1="400.52" y1="891" x2="400.52" y2="901"/><line x1="353.7" y1="883" x2="353.7" y2="909"/><line x1="348.7" y1="883" x2="358.7" y2="883"/><line x1="348.7" y1="909" x2="358.7" y2="909"/></g>
<g stroke="#75ad35" stroke-width="1.7"><line x1="332.28" y1="869.2" x2="436.32" y2="869.2"/><line x1="332.28" y1="864.2" x2="332.28" y2="874.2"/><line x1="436.32" y1="864.2" x2="436.32" y2="874.2"/><line x1="384.3" y1="855.2" x2="384.3" y2="883.2"/><line x1="379.3" y1="855.2" x2="389.3" y2="855.2"/><line x1="379.3" y1="883.2" x2="389.3" y2="883.2"/></g>
<g stroke="#75ad35" stroke-width="1.7"><line x1="383.08" y1="851.5" x2="507.92" y2="851.5"/><line x1="383.08" y1="846.5" x2="383.08" y2="856.5"/><line x1="507.92" y1="846.5" x2="507.92" y2="856.5"/><line x1="445.5" y1="837" x2="445.5" y2="866"/><line x1="440.5" y1="837" x2="450.5" y2="837"/><line x1="440.5" y1="866" x2="450.5" y2="866"/></g>
<g stroke="#75ad35" stroke-width="1.7"><line x1="433.87" y1="848" x2="579.53" y2="848"/><line x1="433.87" y1="843" x2="433.87" y2="853"/><line x1="579.53" y1="843" x2="579.53" y2="853"/><line x1="506.7" y1="832" x2="506.7" y2="864"/><line x1="501.7" y1="832" x2="511.7" y2="832"/><line x1="501.7" y1="864" x2="511.7" y2="864"/></g>
<circle cx="108.9" cy="987.5" r="6.6" fill="#fff" stroke="#75ad35" stroke-width="1.7"/>
<circle cx="139.5" cy="975" r="6.6" fill="#fff" stroke="#75ad35" stroke-width="1.7"/>
<circle cx="170.1" cy="962" r="6.6" fill="#fff" stroke="#75ad35" stroke-width="1.7"/>
<circle cx="200.7" cy="950.7" r="6.6" fill="#fff" stroke="#75ad35" stroke-width="1.7"/>
<circle cx="231.3" cy="939.9" r="6.6" fill="#fff" stroke="#75ad35" stroke-width="1.7"/>
<circle cx="261.9" cy="919.7" r="6.6" fill="#fff" stroke="#75ad35" stroke-width="1.7"/>
<circle cx="292.5" cy="915.3" r="6.6" fill="#fff" stroke="#75ad35" stroke-width="1.7"/>
<circle cx="323.1" cy="898" r="6.6" fill="#fff" stroke="#75ad35" stroke-width="1.7"/>
<circle cx="353.7" cy="896" r="6.6" fill="#fff" stroke="#75ad35" stroke-width="1.7"/>
<circle cx="384.3" cy="869.2" r="6.6" fill="#fff" stroke="#75ad35" stroke-width="1.7"/>
<circle cx="445.5" cy="851.5" r="6.6" fill="#fff" stroke="#75ad35" stroke-width="1.7"/>
<circle cx="506.7" cy="848" r="6.6" fill="#fff" stroke="#75ad35" stroke-width="1.7"/>
<g stroke="#000" stroke-width="1.9"><line x1="103.7" y1="993" x2="114.1" y2="993"/><line x1="103.7" y1="988" x2="103.7" y2="998"/><line x1="114.1" y1="988" x2="114.1" y2="998"/><line x1="108.9" y1="989.5" x2="108.9" y2="996.5"/><line x1="103.9" y1="989.5" x2="113.9" y2="989.5"/><line x1="103.9" y1="996.5" x2="113.9" y2="996.5"/></g>
<g stroke="#000" stroke-width="1.9"><line x1="129.1" y1="975.6" x2="149.9" y2="975.6"/><line x1="129.1" y1="970.6" x2="129.1" y2="980.6"/><line x1="149.9" y1="970.6" x2="149.9" y2="980.6"/><line x1="139.5" y1="971.1" x2="139.5" y2="980.1"/><line x1="134.5" y1="971.1" x2="144.5" y2="971.1"/><line x1="134.5" y1="980.1" x2="144.5" y2="980.1"/></g>
<g stroke="#000" stroke-width="1.9"><line x1="154.49" y1="959.9" x2="185.71" y2="959.9"/><line x1="154.49" y1="954.9" x2="154.49" y2="964.9"/><line x1="185.71" y1="954.9" x2="185.71" y2="964.9"/><line x1="170.1" y1="954.4" x2="170.1" y2="965.4"/><line x1="165.1" y1="954.4" x2="175.1" y2="954.4"/><line x1="165.1" y1="965.4" x2="175.1" y2="965.4"/></g>
<g stroke="#000" stroke-width="1.9"><line x1="179.89" y1="943.5" x2="221.51" y2="943.5"/><line x1="179.89" y1="938.5" x2="179.89" y2="948.5"/><line x1="221.51" y1="938.5" x2="221.51" y2="948.5"/><line x1="200.7" y1="936.5" x2="200.7" y2="950.5"/><line x1="195.7" y1="936.5" x2="205.7" y2="936.5"/><line x1="195.7" y1="950.5" x2="205.7" y2="950.5"/></g>
<g stroke="#000" stroke-width="1.9"><line x1="205.29" y1="933.7" x2="257.31" y2="933.7"/><line x1="205.29" y1="928.7" x2="205.29" y2="938.7"/><line x1="257.31" y1="928.7" x2="257.31" y2="938.7"/><line x1="231.3" y1="925.7" x2="231.3" y2="941.7"/><line x1="226.3" y1="925.7" x2="236.3" y2="925.7"/><line x1="226.3" y1="941.7" x2="236.3" y2="941.7"/></g>
<g stroke="#000" stroke-width="1.9"><line x1="230.69" y1="926.1" x2="293.11" y2="926.1"/><line x1="230.69" y1="921.1" x2="230.69" y2="931.1"/><line x1="293.11" y1="921.1" x2="293.11" y2="931.1"/><line x1="261.9" y1="917.6" x2="261.9" y2="934.6"/><line x1="256.9" y1="917.6" x2="266.9" y2="917.6"/><line x1="256.9" y1="934.6" x2="266.9" y2="934.6"/></g>
<g stroke="#000" stroke-width="1.9"><line x1="256.09" y1="913.3" x2="328.91" y2="913.3"/><line x1="256.09" y1="908.3" x2="256.09" y2="918.3"/><line x1="328.91" y1="908.3" x2="328.91" y2="918.3"/><line x1="292.5" y1="904.9" x2="292.5" y2="921.7"/><line x1="287.5" y1="904.9" x2="297.5" y2="904.9"/><line x1="287.5" y1="921.7" x2="297.5" y2="921.7"/></g>
<g stroke="#000" stroke-width="1.9"><line x1="281.48" y1="896.4" x2="364.72" y2="896.4"/><line x1="281.48" y1="891.4" x2="281.48" y2="901.4"/><line x1="364.72" y1="891.4" x2="364.72" y2="901.4"/><line x1="323.1" y1="886.4" x2="323.1" y2="906.4"/><line x1="318.1" y1="886.4" x2="328.1" y2="886.4"/><line x1="318.1" y1="906.4" x2="328.1" y2="906.4"/></g>
<g stroke="#000" stroke-width="1.9"><line x1="306.88" y1="894" x2="400.52" y2="894"/><line x1="306.88" y1="889" x2="306.88" y2="899"/><line x1="400.52" y1="889" x2="400.52" y2="899"/><line x1="353.7" y1="883" x2="353.7" y2="905"/><line x1="348.7" y1="883" x2="358.7" y2="883"/><line x1="348.7" y1="905" x2="358.7" y2="905"/></g>
<g stroke="#000" stroke-width="1.9"><line x1="332.28" y1="884.7" x2="436.32" y2="884.7"/><line x1="332.28" y1="879.7" x2="332.28" y2="889.7"/><line x1="436.32" y1="879.7" x2="436.32" y2="889.7"/><line x1="384.3" y1="873.5" x2="384.3" y2="895.9"/><line x1="379.3" y1="873.5" x2="389.3" y2="873.5"/><line x1="379.3" y1="895.9" x2="389.3" y2="895.9"/></g>
<g stroke="#000" stroke-width="1.9"><line x1="383.08" y1="866.1" x2="507.92" y2="866.1"/><line x1="383.08" y1="861.1" x2="383.08" y2="871.1"/><line x1="507.92" y1="861.1" x2="507.92" y2="871.1"/><line x1="445.5" y1="853.6" x2="445.5" y2="878.6"/><line x1="440.5" y1="853.6" x2="450.5" y2="853.6"/><line x1="440.5" y1="878.6" x2="450.5" y2="878.6"/></g>
<g stroke="#000" stroke-width="1.9"><line x1="433.87" y1="846.1" x2="579.53" y2="846.1"/><line x1="433.87" y1="841.1" x2="433.87" y2="851.1"/><line x1="579.53" y1="841.1" x2="579.53" y2="851.1"/><line x1="506.7" y1="831.1" x2="506.7" y2="861.1"/><line x1="501.7" y1="831.1" x2="511.7" y2="831.1"/><line x1="501.7" y1="861.1" x2="511.7" y2="861.1"/></g>
<circle cx="108.9" cy="993" r="6.6" fill="#75ad35" stroke="#000" stroke-width="1.9"/>
<line x1="103.4" y1="990.2" x2="114.4" y2="990.2" stroke="#000" stroke-width="1.6"/>
<line x1="103.4" y1="995.8" x2="114.4" y2="995.8" stroke="#000" stroke-width="1.6"/>
<circle cx="139.5" cy="975.6" r="6.6" fill="#75ad35" stroke="#000" stroke-width="1.9"/>
<line x1="134" y1="972" x2="145" y2="972" stroke="#000" stroke-width="1.6"/>
<line x1="134" y1="979.2" x2="145" y2="979.2" stroke="#000" stroke-width="1.6"/>
<circle cx="170.1" cy="959.9" r="6.6" fill="#75ad35" stroke="#000" stroke-width="1.9"/>
<line x1="164.6" y1="955.5" x2="175.6" y2="955.5" stroke="#000" stroke-width="1.6"/>
<line x1="164.6" y1="964.3" x2="175.6" y2="964.3" stroke="#000" stroke-width="1.6"/>
<circle cx="200.7" cy="943.5" r="6.6" fill="#75ad35" stroke="#000" stroke-width="1.9"/>
<circle cx="231.3" cy="933.7" r="6.6" fill="#75ad35" stroke="#000" stroke-width="1.9"/>
<circle cx="261.9" cy="926.1" r="6.6" fill="#75ad35" stroke="#000" stroke-width="1.9"/>
<circle cx="292.5" cy="913.3" r="6.6" fill="#75ad35" stroke="#000" stroke-width="1.9"/>
<circle cx="323.1" cy="896.4" r="6.6" fill="#75ad35" stroke="#000" stroke-width="1.9"/>
<circle cx="353.7" cy="894" r="6.6" fill="#75ad35" stroke="#000" stroke-width="1.9"/>
<circle cx="384.3" cy="884.7" r="6.6" fill="#75ad35" stroke="#000" stroke-width="1.9"/>
<circle cx="445.5" cy="866.1" r="6.6" fill="#75ad35" stroke="#000" stroke-width="1.9"/>
<circle cx="506.7" cy="846.1" r="6.6" fill="#75ad35" stroke="#000" stroke-width="1.9"/>
<g stroke="#a3173b" stroke-width="1.8"><line x1="103.7" y1="923.5" x2="114.1" y2="923.5"/><line x1="103.7" y1="918.5" x2="103.7" y2="928.5"/><line x1="114.1" y1="918.5" x2="114.1" y2="928.5"/><line x1="108.9" y1="916" x2="108.9" y2="931"/><line x1="103.9" y1="916" x2="113.9" y2="916"/><line x1="103.9" y1="931" x2="113.9" y2="931"/></g>
<g stroke="#a3173b" stroke-width="1.8"><line x1="129.1" y1="866" x2="149.9" y2="866"/><line x1="129.1" y1="861" x2="129.1" y2="871"/><line x1="149.9" y1="861" x2="149.9" y2="871"/><line x1="139.5" y1="855" x2="139.5" y2="877"/><line x1="134.5" y1="855" x2="144.5" y2="855"/><line x1="134.5" y1="877" x2="144.5" y2="877"/></g>
<g stroke="#a3173b" stroke-width="1.8"><line x1="154.49" y1="830.9" x2="185.71" y2="830.9"/><line x1="154.49" y1="825.9" x2="154.49" y2="835.9"/><line x1="185.71" y1="825.9" x2="185.71" y2="835.9"/><line x1="170.1" y1="814.1" x2="170.1" y2="847.7"/><line x1="165.1" y1="814.1" x2="175.1" y2="814.1"/><line x1="165.1" y1="847.7" x2="175.1" y2="847.7"/></g>
<g stroke="#a3173b" stroke-width="1.8"><line x1="179.89" y1="784.6" x2="221.51" y2="784.6"/><line x1="179.89" y1="779.6" x2="179.89" y2="789.6"/><line x1="221.51" y1="779.6" x2="221.51" y2="789.6"/><line x1="200.7" y1="763.1" x2="200.7" y2="806.1"/><line x1="195.7" y1="763.1" x2="205.7" y2="763.1"/><line x1="195.7" y1="806.1" x2="205.7" y2="806.1"/></g>
<g stroke="#a3173b" stroke-width="1.8"><line x1="205.29" y1="748.5" x2="257.31" y2="748.5"/><line x1="205.29" y1="743.5" x2="205.29" y2="753.5"/><line x1="257.31" y1="743.5" x2="257.31" y2="753.5"/><line x1="231.3" y1="723.5" x2="231.3" y2="773.5"/><line x1="226.3" y1="723.5" x2="236.3" y2="723.5"/><line x1="226.3" y1="773.5" x2="236.3" y2="773.5"/></g>
<g stroke="#a3173b" stroke-width="1.8"><line x1="230.69" y1="734.5" x2="293.11" y2="734.5"/><line x1="230.69" y1="729.5" x2="230.69" y2="739.5"/><line x1="293.11" y1="729.5" x2="293.11" y2="739.5"/><line x1="261.9" y1="707.9" x2="261.9" y2="761.1"/><line x1="256.9" y1="707.9" x2="266.9" y2="707.9"/><line x1="256.9" y1="761.1" x2="266.9" y2="761.1"/></g>
<g stroke="#a3173b" stroke-width="1.8"><line x1="256.09" y1="692.8" x2="328.91" y2="692.8"/><line x1="256.09" y1="687.8" x2="256.09" y2="697.8"/><line x1="328.91" y1="687.8" x2="328.91" y2="697.8"/><line x1="292.5" y1="662" x2="292.5" y2="723.6"/><line x1="287.5" y1="662" x2="297.5" y2="662"/><line x1="287.5" y1="723.6" x2="297.5" y2="723.6"/></g>
<g stroke="#a3173b" stroke-width="1.8"><line x1="281.48" y1="696.8" x2="364.72" y2="696.8"/><line x1="281.48" y1="691.8" x2="281.48" y2="701.8"/><line x1="364.72" y1="691.8" x2="364.72" y2="701.8"/><line x1="323.1" y1="666.8" x2="323.1" y2="726.8"/><line x1="318.1" y1="666.8" x2="328.1" y2="666.8"/><line x1="318.1" y1="726.8" x2="328.1" y2="726.8"/></g>
<g stroke="#a3173b" stroke-width="1.8"><line x1="306.88" y1="654.8" x2="400.52" y2="654.8"/><line x1="306.88" y1="649.8" x2="306.88" y2="659.8"/><line x1="400.52" y1="649.8" x2="400.52" y2="659.8"/><line x1="353.7" y1="620.4" x2="353.7" y2="689.2"/><line x1="348.7" y1="620.4" x2="358.7" y2="620.4"/><line x1="348.7" y1="689.2" x2="358.7" y2="689.2"/></g>
<g stroke="#a3173b" stroke-width="1.8"><line x1="332.28" y1="655.2" x2="436.32" y2="655.2"/><line x1="332.28" y1="650.2" x2="332.28" y2="660.2"/><line x1="436.32" y1="650.2" x2="436.32" y2="660.2"/><line x1="384.3" y1="620.8" x2="384.3" y2="689.6"/><line x1="379.3" y1="620.8" x2="389.3" y2="620.8"/><line x1="379.3" y1="689.6" x2="389.3" y2="689.6"/></g>
<g stroke="#a3173b" stroke-width="1.8"><line x1="383.08" y1="627.4" x2="507.92" y2="627.4"/><line x1="383.08" y1="622.4" x2="383.08" y2="632.4"/><line x1="507.92" y1="622.4" x2="507.92" y2="632.4"/><line x1="445.5" y1="590" x2="445.5" y2="664.8"/><line x1="440.5" y1="590" x2="450.5" y2="590"/><line x1="440.5" y1="664.8" x2="450.5" y2="664.8"/></g>
<g stroke="#a3173b" stroke-width="1.8"><line x1="433.87" y1="590.6" x2="579.53" y2="590.6"/><line x1="433.87" y1="585.6" x2="433.87" y2="595.6"/><line x1="579.53" y1="585.6" x2="579.53" y2="595.6"/><line x1="506.7" y1="549.9" x2="506.7" y2="631.3"/><line x1="501.7" y1="549.9" x2="511.7" y2="549.9"/><line x1="501.7" y1="631.3" x2="511.7" y2="631.3"/></g>
<path d="M108.9,913.6 L116.8,927.5 L101,927.5 Z" fill="#fff" stroke="#a3173b" stroke-width="1.8"/>
<path d="M139.5,856.1 L147.4,870 L131.6,870 Z" fill="#fff" stroke="#a3173b" stroke-width="1.8"/>
<path d="M170.1,821 L178,834.9 L162.2,834.9 Z" fill="#fff" stroke="#a3173b" stroke-width="1.8"/>
<path d="M200.7,774.7 L208.6,788.6 L192.8,788.6 Z" fill="#fff" stroke="#a3173b" stroke-width="1.8"/>
<path d="M231.3,738.6 L239.2,752.5 L223.4,752.5 Z" fill="#fff" stroke="#a3173b" stroke-width="1.8"/>
<path d="M261.9,724.6 L269.8,738.5 L254,738.5 Z" fill="#fff" stroke="#a3173b" stroke-width="1.8"/>
<path d="M292.5,682.9 L300.4,696.8 L284.6,696.8 Z" fill="#fff" stroke="#a3173b" stroke-width="1.8"/>
<path d="M323.1,686.9 L331,700.8 L315.2,700.8 Z" fill="#fff" stroke="#a3173b" stroke-width="1.8"/>
<path d="M353.7,644.9 L361.6,658.8 L345.8,658.8 Z" fill="#fff" stroke="#a3173b" stroke-width="1.8"/>
<path d="M384.3,645.3 L392.2,659.2 L376.4,659.2 Z" fill="#fff" stroke="#a3173b" stroke-width="1.8"/>
<path d="M445.5,617.5 L453.4,631.4 L437.6,631.4 Z" fill="#fff" stroke="#a3173b" stroke-width="1.8"/>
<path d="M506.7,580.7 L514.6,594.6 L498.8,594.6 Z" fill="#fff" stroke="#a3173b" stroke-width="1.8"/>
<g stroke="#000" stroke-width="1.9"><line x1="103.7" y1="903.5" x2="114.1" y2="903.5"/><line x1="103.7" y1="898.5" x2="103.7" y2="908.5"/><line x1="114.1" y1="898.5" x2="114.1" y2="908.5"/><line x1="108.9" y1="894" x2="108.9" y2="913"/><line x1="103.9" y1="894" x2="113.9" y2="894"/><line x1="103.9" y1="913" x2="113.9" y2="913"/></g>
<g stroke="#000" stroke-width="1.9"><line x1="129.1" y1="846.7" x2="149.9" y2="846.7"/><line x1="129.1" y1="841.7" x2="129.1" y2="851.7"/><line x1="149.9" y1="841.7" x2="149.9" y2="851.7"/><line x1="139.5" y1="831.7" x2="139.5" y2="861.7"/><line x1="134.5" y1="831.7" x2="144.5" y2="831.7"/><line x1="134.5" y1="861.7" x2="144.5" y2="861.7"/></g>
<g stroke="#000" stroke-width="1.9"><line x1="154.49" y1="805.2" x2="185.71" y2="805.2"/><line x1="154.49" y1="800.2" x2="154.49" y2="810.2"/><line x1="185.71" y1="800.2" x2="185.71" y2="810.2"/><line x1="170.1" y1="785.8" x2="170.1" y2="824.6"/><line x1="165.1" y1="785.8" x2="175.1" y2="785.8"/><line x1="165.1" y1="824.6" x2="175.1" y2="824.6"/></g>
<g stroke="#000" stroke-width="1.9"><line x1="179.89" y1="762.6" x2="221.51" y2="762.6"/><line x1="179.89" y1="757.6" x2="179.89" y2="767.6"/><line x1="221.51" y1="757.6" x2="221.51" y2="767.6"/><line x1="200.7" y1="739.1" x2="200.7" y2="786.1"/><line x1="195.7" y1="739.1" x2="205.7" y2="739.1"/><line x1="195.7" y1="786.1" x2="205.7" y2="786.1"/></g>
<g stroke="#000" stroke-width="1.9"><line x1="205.29" y1="731.4" x2="257.31" y2="731.4"/><line x1="205.29" y1="726.4" x2="205.29" y2="736.4"/><line x1="257.31" y1="726.4" x2="257.31" y2="736.4"/><line x1="231.3" y1="704.6" x2="231.3" y2="758.2"/><line x1="226.3" y1="704.6" x2="236.3" y2="704.6"/><line x1="226.3" y1="758.2" x2="236.3" y2="758.2"/></g>
<g stroke="#000" stroke-width="1.9"><line x1="230.69" y1="689.7" x2="293.11" y2="689.7"/><line x1="230.69" y1="684.7" x2="230.69" y2="694.7"/><line x1="293.11" y1="684.7" x2="293.11" y2="694.7"/><line x1="261.9" y1="658.7" x2="261.9" y2="720.7"/><line x1="256.9" y1="658.7" x2="266.9" y2="658.7"/><line x1="256.9" y1="720.7" x2="266.9" y2="720.7"/></g>
<g stroke="#000" stroke-width="1.9"><line x1="256.09" y1="678" x2="328.91" y2="678"/><line x1="256.09" y1="673" x2="256.09" y2="683"/><line x1="328.91" y1="673" x2="328.91" y2="683"/><line x1="292.5" y1="646" x2="292.5" y2="710"/><line x1="287.5" y1="646" x2="297.5" y2="646"/><line x1="287.5" y1="710" x2="297.5" y2="710"/></g>
<g stroke="#000" stroke-width="1.9"><line x1="281.48" y1="686.4" x2="364.72" y2="686.4"/><line x1="281.48" y1="681.4" x2="281.48" y2="691.4"/><line x1="364.72" y1="681.4" x2="364.72" y2="691.4"/><line x1="323.1" y1="655.4" x2="323.1" y2="717.4"/><line x1="318.1" y1="655.4" x2="328.1" y2="655.4"/><line x1="318.1" y1="717.4" x2="328.1" y2="717.4"/></g>
<g stroke="#000" stroke-width="1.9"><line x1="306.88" y1="640.4" x2="400.52" y2="640.4"/><line x1="306.88" y1="635.4" x2="306.88" y2="645.4"/><line x1="400.52" y1="635.4" x2="400.52" y2="645.4"/><line x1="353.7" y1="604.6" x2="353.7" y2="676.2"/><line x1="348.7" y1="604.6" x2="358.7" y2="604.6"/><line x1="348.7" y1="676.2" x2="358.7" y2="676.2"/></g>
<g stroke="#000" stroke-width="1.9"><line x1="332.28" y1="631.4" x2="436.32" y2="631.4"/><line x1="332.28" y1="626.4" x2="332.28" y2="636.4"/><line x1="436.32" y1="626.4" x2="436.32" y2="636.4"/><line x1="384.3" y1="594.1" x2="384.3" y2="668.7"/><line x1="379.3" y1="594.1" x2="389.3" y2="594.1"/><line x1="379.3" y1="668.7" x2="389.3" y2="668.7"/></g>
<g stroke="#000" stroke-width="1.9"><line x1="383.08" y1="637.9" x2="507.92" y2="637.9"/><line x1="383.08" y1="632.9" x2="383.08" y2="642.9"/><line x1="507.92" y1="632.9" x2="507.92" y2="642.9"/><line x1="445.5" y1="601.9" x2="445.5" y2="673.9"/><line x1="440.5" y1="601.9" x2="450.5" y2="601.9"/><line x1="440.5" y1="673.9" x2="450.5" y2="673.9"/></g>
<g stroke="#000" stroke-width="1.9"><line x1="433.87" y1="610.5" x2="579.53" y2="610.5"/><line x1="433.87" y1="605.5" x2="433.87" y2="615.5"/><line x1="579.53" y1="605.5" x2="579.53" y2="615.5"/><line x1="506.7" y1="571.7" x2="506.7" y2="649.3"/><line x1="501.7" y1="571.7" x2="511.7" y2="571.7"/><line x1="501.7" y1="649.3" x2="511.7" y2="649.3"/></g>
<path d="M108.9,893.5 L116.9,907.4 L100.9,907.4 Z" fill="#a3173b" stroke="#000" stroke-width="2.0"/>
<path d="M139.5,836.7 L147.5,850.6 L131.5,850.6 Z" fill="#a3173b" stroke="#000" stroke-width="2.0"/>
<path d="M170.1,795.2 L178.1,809.1 L162.1,809.1 Z" fill="#a3173b" stroke="#000" stroke-width="2.0"/>
<path d="M200.7,752.6 L208.7,766.5 L192.7,766.5 Z" fill="#a3173b" stroke="#000" stroke-width="2.0"/>
<path d="M231.3,721.4 L239.3,735.3 L223.3,735.3 Z" fill="#a3173b" stroke="#000" stroke-width="2.0"/>
<path d="M261.9,679.7 L269.9,693.6 L253.9,693.6 Z" fill="#a3173b" stroke="#000" stroke-width="2.0"/>
<path d="M292.5,668 L300.5,681.9 L284.5,681.9 Z" fill="#a3173b" stroke="#000" stroke-width="2.0"/>
<path d="M323.1,676.4 L331.1,690.3 L315.1,690.3 Z" fill="#a3173b" stroke="#000" stroke-width="2.0"/>
<path d="M353.7,630.4 L361.7,644.3 L345.7,644.3 Z" fill="#a3173b" stroke="#000" stroke-width="2.0"/>
<path d="M384.3,621.4 L392.3,635.3 L376.3,635.3 Z" fill="#a3173b" stroke="#000" stroke-width="2.0"/>
<path d="M445.5,627.9 L453.5,641.8 L437.5,641.8 Z" fill="#a3173b" stroke="#000" stroke-width="2.0"/>
<path d="M506.7,600.5 L514.7,614.4 L498.7,614.4 Z" fill="#a3173b" stroke="#000" stroke-width="2.0"/>
<g stroke="#000" stroke-width="1.9"><line x1="384.1" y1="611.5" x2="384.1" y2="730.7"/><line x1="379.1" y1="611.5" x2="389.1" y2="611.5"/><line x1="379.1" y1="730.7" x2="389.1" y2="730.7"/></g>
<rect x="377.8" y="665" width="12.5" height="12.3" fill="#000"/>
<circle cx="79.3" cy="1000.3" r="6.6" fill="#75ad35" stroke="#000" stroke-width="1.9"/>
<path d="M79.3,989 L87.3,1002.9 L71.3,1002.9 Z" fill="#a3173b" stroke="#000" stroke-width="2.0"/>
<line x1="79.3" y1="990" x2="79.3" y2="1004" stroke="#000" stroke-width="1.6"/>
<rect x="73.2" y="986.3" width="12.5" height="12.4" fill="#000"/>
<line x1="418.3" y1="710" x2="398" y2="690.3" stroke="#000" stroke-width="2.5"/>
<path d="M388.6,680.7 L408.6,689.3 L399.6,691.9 L397,700.4 Z" fill="#000"/>
<text x="402.65" y="734.1" class="b" font-size="25.0">STM</text>
<text x="227.6" y="543" class="i" font-size="24.75">Y = (3.7 ± 0.6) x 10</text>
<text x="437.59" y="534.9" class="i" font-size="16.2">-6</text>
<text x="459.86" y="543" class="i" font-size="24.8">H / ph</text>
<line x1="245.8" y1="545.3" x2="264" y2="559.5" stroke="#000" stroke-width="2.6"/>
<path d="M274.7,568.6 L254.3,562.5 L263.1,558.7 L264.5,549.9 Z" fill="#000"/>
<text x="586.13" y="611.3" class="b" font-size="24.5" fill="#b23a55">ρ</text>
<text x="601.44" y="612.2" class="b" font-size="15.2" fill="#b23a55">Si</text>
<text x="621.98" y="611.3" class="b" font-size="25.5" fill="#b23a55">~</text>
<text x="644.24" y="611.3" class="b" font-size="25.5" fill="#b23a55">S</text>
<text x="660.92" y="612.4" class="b" font-size="13.6" fill="#b23a55">H</text>
<text x="562.66" y="800.6" class="b" font-size="24" fill="#75ad35">ρ</text>
<text x="577.36" y="800.6" class="b" font-size="14.8" fill="#75ad35">Si,up</text>
<text x="620" y="800.6" class="b" font-size="25" fill="#75ad35">~</text>
<text x="642.47" y="800.6" class="b" font-size="24.5" fill="#75ad35">S</text>
<text x="655.55" y="800.6" class="b" font-size="15.8" fill="#75ad35">up</text>
<rect x="515.9" y="926.6" width="123.6" height="63.2" fill="#fff" stroke="#222" stroke-width="1.3"/>
<circle cx="530" cy="943.9" r="6.6" fill="#75ad35" stroke="#333" stroke-width="1"/>
<path d="M552.2,936.7 L560.2,951 L544.2,951 Z" fill="#a3173b"/>
<text x="564.71" y="951.6" class="r" font-size="24.8">300 K</text>
<circle cx="530" cy="976.1" r="6.6" fill="#fff" stroke="#75ad35" stroke-width="1.4"/>
<path d="M552.5,970 L559.8,982.6 L545.2,982.6 Z" fill="#fff" stroke="#a3173b" stroke-width="1.4"/>
<text x="564.47" y="983.4" class="r" font-size="24.7">77 K</text>
</svg>
</body></html>
